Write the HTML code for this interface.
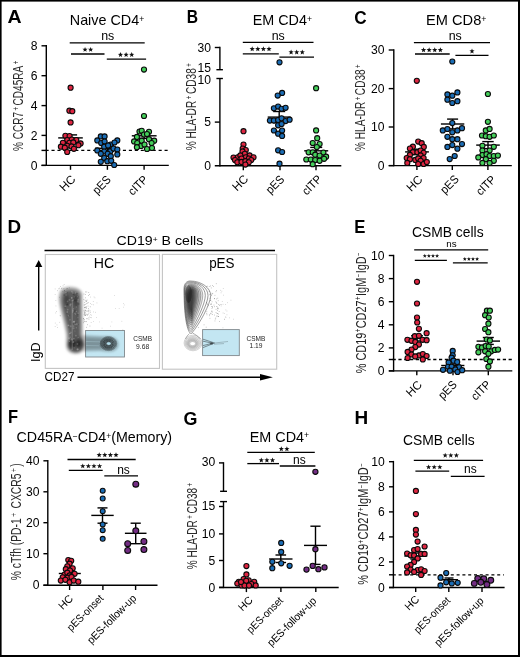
<!DOCTYPE html>
<html><head><meta charset="utf-8"><title>Figure</title>
<style>
html,body{margin:0;padding:0;background:#fff;}
body{width:520px;height:657px;overflow:hidden;}
svg{display:block;}
text{font-family:"Liberation Sans",sans-serif;}
</style></head>
<body>
<svg width="520" height="657" viewBox="0 0 520 657" font-family="Liberation Sans, sans-serif">
<defs><filter id="blur" x="-20%" y="-20%" width="140%" height="140%"><feGaussianBlur stdDeviation="0.9"/></filter><filter id="blur2" x="-20%" y="-20%" width="140%" height="140%"><feGaussianBlur stdDeviation="0.7"/></filter><filter id="blur3" x="-20%" y="-20%" width="140%" height="140%"><feGaussianBlur stdDeviation="0.45"/></filter></defs>
<rect width="520" height="657" fill="#fff"/>
<rect x="0" y="0" width="520" height="1.6" fill="#000"/>
<rect x="0" y="0" width="1.6" height="657" fill="#000"/>
<rect x="518" y="0" width="2" height="657" fill="#000"/>
<rect x="0" y="655" width="520" height="2" fill="#000"/>
<g transform="translate(7.51,23.30) scale(1.110,1)"><text x="0" y="0" font-size="17.6" font-weight="bold">A</text></g>
<g transform="translate(69.77,25.30) rotate(0) scale(1.0267,1.0)"><text x="0.00" y="0" fill="#000"><tspan font-size="14.00" dx="0.00" dy="0.00">Naive CD4</tspan><tspan font-size="8.40" dx="0.00" dy="-3.50">+</tspan></text></g>
<line x1="46.30" y1="45.10" x2="46.30" y2="166.00" stroke="#000" stroke-width="1.4" stroke-linecap="butt"/>
<line x1="41.50" y1="45.80" x2="46.30" y2="45.80" stroke="#000" stroke-width="1.4" stroke-linecap="butt"/>
<line x1="41.50" y1="75.70" x2="46.30" y2="75.70" stroke="#000" stroke-width="1.4" stroke-linecap="butt"/>
<line x1="41.50" y1="105.60" x2="46.30" y2="105.60" stroke="#000" stroke-width="1.4" stroke-linecap="butt"/>
<line x1="41.50" y1="135.40" x2="46.30" y2="135.40" stroke="#000" stroke-width="1.4" stroke-linecap="butt"/>
<line x1="41.50" y1="165.40" x2="46.30" y2="165.40" stroke="#000" stroke-width="1.4" stroke-linecap="butt"/>
<line x1="41.50" y1="150.40" x2="46.30" y2="150.40" stroke="#000" stroke-width="1.4" stroke-linecap="butt"/>
<line x1="41.50" y1="165.40" x2="168.80" y2="165.40" stroke="#000" stroke-width="1.4" stroke-linecap="butt"/>
<line x1="70.50" y1="165.40" x2="70.50" y2="169.80" stroke="#000" stroke-width="1.4" stroke-linecap="butt"/>
<line x1="107.40" y1="165.40" x2="107.40" y2="169.80" stroke="#000" stroke-width="1.4" stroke-linecap="butt"/>
<line x1="144.10" y1="165.40" x2="144.10" y2="169.80" stroke="#000" stroke-width="1.4" stroke-linecap="butt"/>
<line x1="45.55" y1="150.40" x2="168.80" y2="150.40" stroke="#000" stroke-width="1.3" stroke-linecap="butt" stroke-dasharray="3.1 2.85"/>
<g transform="translate(37.60,49.96) scale(1.02,1)"><text x="0" y="0" font-size="11.9" text-anchor="end">8</text></g>
<g transform="translate(37.60,79.87) scale(1.02,1)"><text x="0" y="0" font-size="11.9" text-anchor="end">6</text></g>
<g transform="translate(37.60,109.77) scale(1.02,1)"><text x="0" y="0" font-size="11.9" text-anchor="end">4</text></g>
<g transform="translate(37.60,139.56) scale(1.02,1)"><text x="0" y="0" font-size="11.9" text-anchor="end">2</text></g>
<g transform="translate(37.60,169.56) scale(1.02,1)"><text x="0" y="0" font-size="11.9" text-anchor="end">0</text></g>
<g transform="translate(23.10,151.00) rotate(-90) scale(0.6783,1.0)"><text x="0.00" y="0" fill="#2a2a2a" style="stroke:none"><tspan font-size="14.80" dx="0.00" dy="0.00">% CCR7</tspan><tspan font-size="9.18" dx="2.20" dy="-4.44">+</tspan><tspan font-size="14.80" dx="2.20" dy="4.44">CD45RA</tspan><tspan font-size="9.18" dx="2.20" dy="-4.44">+</tspan></text></g>
<line x1="69.70" y1="42.90" x2="144.70" y2="42.90" stroke="#000" stroke-width="1.3" stroke-linecap="butt"/>
<text x="107.70" y="39.60" font-size="12.4" text-anchor="middle" fill="#000">ns</text>
<line x1="71.00" y1="54.00" x2="104.50" y2="54.00" stroke="#000" stroke-width="1.3" stroke-linecap="butt"/>
<polygon points="85.05,46.90 85.73,48.72 87.67,48.80 86.15,50.01 86.67,51.87 85.05,50.80 83.43,51.87 83.95,50.01 82.43,48.80 84.37,48.72" fill="#111"/>
<polygon points="90.65,46.90 91.33,48.72 93.27,48.80 91.75,50.01 92.27,51.87 90.65,50.80 89.03,51.87 89.55,50.01 88.03,48.80 89.97,48.72" fill="#111"/>
<line x1="106.80" y1="59.10" x2="146.10" y2="59.10" stroke="#000" stroke-width="1.3" stroke-linecap="butt"/>
<polygon points="120.50,52.00 121.18,53.82 123.12,53.90 121.60,55.11 122.12,56.97 120.50,55.91 118.88,56.97 119.40,55.11 117.88,53.90 119.82,53.82" fill="#111"/>
<polygon points="126.10,52.00 126.78,53.82 128.72,53.90 127.20,55.11 127.72,56.97 126.10,55.91 124.48,56.97 125.00,55.11 123.48,53.90 125.42,53.82" fill="#111"/>
<polygon points="131.70,52.00 132.38,53.82 134.32,53.90 132.80,55.11 133.32,56.97 131.70,55.91 130.08,56.97 130.60,55.11 129.08,53.90 131.02,53.82" fill="#111"/>
<line x1="58.20" y1="137.90" x2="82.80" y2="137.90" stroke="#000" stroke-width="1.4" stroke-linecap="butt"/>
<line x1="63.90" y1="134.90" x2="77.10" y2="134.90" stroke="#000" stroke-width="1.4" stroke-linecap="butt"/>
<line x1="70.50" y1="134.90" x2="70.50" y2="137.90" stroke="#000" stroke-width="1.4" stroke-linecap="butt"/>
<line x1="63.90" y1="141.00" x2="77.10" y2="141.00" stroke="#000" stroke-width="1.4" stroke-linecap="butt"/>
<line x1="70.50" y1="137.90" x2="70.50" y2="141.00" stroke="#000" stroke-width="1.4" stroke-linecap="butt"/>
<line x1="95.10" y1="148.30" x2="119.70" y2="148.30" stroke="#000" stroke-width="1.4" stroke-linecap="butt"/>
<line x1="100.80" y1="145.30" x2="114.00" y2="145.30" stroke="#000" stroke-width="1.4" stroke-linecap="butt"/>
<line x1="107.40" y1="145.30" x2="107.40" y2="148.30" stroke="#000" stroke-width="1.4" stroke-linecap="butt"/>
<line x1="100.80" y1="151.30" x2="114.00" y2="151.30" stroke="#000" stroke-width="1.4" stroke-linecap="butt"/>
<line x1="107.40" y1="148.30" x2="107.40" y2="151.30" stroke="#000" stroke-width="1.4" stroke-linecap="butt"/>
<line x1="131.80" y1="135.80" x2="156.60" y2="135.80" stroke="#000" stroke-width="1.4" stroke-linecap="butt"/>
<line x1="137.60" y1="133.20" x2="150.80" y2="133.20" stroke="#000" stroke-width="1.4" stroke-linecap="butt"/>
<line x1="144.20" y1="133.20" x2="144.20" y2="135.80" stroke="#000" stroke-width="1.4" stroke-linecap="butt"/>
<line x1="137.60" y1="138.40" x2="150.80" y2="138.40" stroke="#000" stroke-width="1.4" stroke-linecap="butt"/>
<line x1="144.20" y1="135.80" x2="144.20" y2="138.40" stroke="#000" stroke-width="1.4" stroke-linecap="butt"/>
<circle cx="70.60" cy="87.70" r="2.55" fill="#de2541" stroke="#0a0a0a" stroke-width="1.1"/>
<circle cx="69.40" cy="110.70" r="2.55" fill="#de2541" stroke="#0a0a0a" stroke-width="1.1"/>
<circle cx="72.30" cy="111.20" r="2.55" fill="#de2541" stroke="#0a0a0a" stroke-width="1.1"/>
<circle cx="70.60" cy="122.40" r="2.55" fill="#de2541" stroke="#0a0a0a" stroke-width="1.1"/>
<circle cx="65.40" cy="135.80" r="2.55" fill="#de2541" stroke="#0a0a0a" stroke-width="1.1"/>
<circle cx="69.60" cy="136.10" r="2.55" fill="#de2541" stroke="#0a0a0a" stroke-width="1.1"/>
<circle cx="67.20" cy="140.00" r="2.55" fill="#de2541" stroke="#0a0a0a" stroke-width="1.1"/>
<circle cx="71.80" cy="139.50" r="2.55" fill="#de2541" stroke="#0a0a0a" stroke-width="1.1"/>
<circle cx="76.30" cy="140.00" r="2.55" fill="#de2541" stroke="#0a0a0a" stroke-width="1.1"/>
<circle cx="62.90" cy="142.80" r="2.55" fill="#de2541" stroke="#0a0a0a" stroke-width="1.1"/>
<circle cx="69.40" cy="142.80" r="2.55" fill="#de2541" stroke="#0a0a0a" stroke-width="1.1"/>
<circle cx="73.30" cy="142.40" r="2.55" fill="#de2541" stroke="#0a0a0a" stroke-width="1.1"/>
<circle cx="80.60" cy="143.40" r="2.55" fill="#de2541" stroke="#0a0a0a" stroke-width="1.1"/>
<circle cx="78.40" cy="145.20" r="2.55" fill="#de2541" stroke="#0a0a0a" stroke-width="1.1"/>
<circle cx="60.90" cy="146.70" r="2.55" fill="#de2541" stroke="#0a0a0a" stroke-width="1.1"/>
<circle cx="67.20" cy="145.80" r="2.55" fill="#de2541" stroke="#0a0a0a" stroke-width="1.1"/>
<circle cx="71.50" cy="146.40" r="2.55" fill="#de2541" stroke="#0a0a0a" stroke-width="1.1"/>
<circle cx="73.90" cy="148.80" r="2.55" fill="#de2541" stroke="#0a0a0a" stroke-width="1.1"/>
<circle cx="64.80" cy="147.70" r="2.55" fill="#de2541" stroke="#0a0a0a" stroke-width="1.1"/>
<circle cx="67.20" cy="152.00" r="2.55" fill="#de2541" stroke="#0a0a0a" stroke-width="1.1"/>
<circle cx="100.80" cy="136.40" r="2.55" fill="#1b6db5" stroke="#0a0a0a" stroke-width="1.1"/>
<circle cx="104.60" cy="136.40" r="2.55" fill="#1b6db5" stroke="#0a0a0a" stroke-width="1.1"/>
<circle cx="97.30" cy="140.40" r="2.55" fill="#1b6db5" stroke="#0a0a0a" stroke-width="1.1"/>
<circle cx="117.30" cy="140.40" r="2.55" fill="#1b6db5" stroke="#0a0a0a" stroke-width="1.1"/>
<circle cx="101.20" cy="143.10" r="2.55" fill="#1b6db5" stroke="#0a0a0a" stroke-width="1.1"/>
<circle cx="104.60" cy="141.50" r="2.55" fill="#1b6db5" stroke="#0a0a0a" stroke-width="1.1"/>
<circle cx="110.60" cy="144.60" r="2.55" fill="#1b6db5" stroke="#0a0a0a" stroke-width="1.1"/>
<circle cx="114.50" cy="142.50" r="2.55" fill="#1b6db5" stroke="#0a0a0a" stroke-width="1.1"/>
<circle cx="104.20" cy="146.70" r="2.55" fill="#1b6db5" stroke="#0a0a0a" stroke-width="1.1"/>
<circle cx="108.10" cy="145.40" r="2.55" fill="#1b6db5" stroke="#0a0a0a" stroke-width="1.1"/>
<circle cx="97.30" cy="150.40" r="2.55" fill="#1b6db5" stroke="#0a0a0a" stroke-width="1.1"/>
<circle cx="104.20" cy="151.50" r="2.55" fill="#1b6db5" stroke="#0a0a0a" stroke-width="1.1"/>
<circle cx="110.40" cy="151.20" r="2.55" fill="#1b6db5" stroke="#0a0a0a" stroke-width="1.1"/>
<circle cx="113.50" cy="148.50" r="2.55" fill="#1b6db5" stroke="#0a0a0a" stroke-width="1.1"/>
<circle cx="117.30" cy="149.50" r="2.55" fill="#1b6db5" stroke="#0a0a0a" stroke-width="1.1"/>
<circle cx="100.80" cy="153.80" r="2.55" fill="#1b6db5" stroke="#0a0a0a" stroke-width="1.1"/>
<circle cx="107.70" cy="153.80" r="2.55" fill="#1b6db5" stroke="#0a0a0a" stroke-width="1.1"/>
<circle cx="117.30" cy="154.40" r="2.55" fill="#1b6db5" stroke="#0a0a0a" stroke-width="1.1"/>
<circle cx="110.80" cy="156.20" r="2.55" fill="#1b6db5" stroke="#0a0a0a" stroke-width="1.1"/>
<circle cx="104.20" cy="158.10" r="2.55" fill="#1b6db5" stroke="#0a0a0a" stroke-width="1.1"/>
<circle cx="100.80" cy="161.80" r="2.55" fill="#1b6db5" stroke="#0a0a0a" stroke-width="1.1"/>
<circle cx="107.30" cy="161.20" r="2.55" fill="#1b6db5" stroke="#0a0a0a" stroke-width="1.1"/>
<circle cx="111.20" cy="160.80" r="2.55" fill="#1b6db5" stroke="#0a0a0a" stroke-width="1.1"/>
<circle cx="114.20" cy="165.00" r="2.55" fill="#1b6db5" stroke="#0a0a0a" stroke-width="1.1"/>
<circle cx="144.00" cy="69.60" r="2.55" fill="#44cf5a" stroke="#0a0a0a" stroke-width="1.1"/>
<circle cx="144.00" cy="116.00" r="2.55" fill="#44cf5a" stroke="#0a0a0a" stroke-width="1.1"/>
<circle cx="139.50" cy="131.50" r="2.55" fill="#44cf5a" stroke="#0a0a0a" stroke-width="1.1"/>
<circle cx="141.70" cy="130.80" r="2.55" fill="#44cf5a" stroke="#0a0a0a" stroke-width="1.1"/>
<circle cx="149.00" cy="131.80" r="2.55" fill="#44cf5a" stroke="#0a0a0a" stroke-width="1.1"/>
<circle cx="136.90" cy="136.90" r="2.55" fill="#44cf5a" stroke="#0a0a0a" stroke-width="1.1"/>
<circle cx="144.00" cy="134.60" r="2.55" fill="#44cf5a" stroke="#0a0a0a" stroke-width="1.1"/>
<circle cx="147.00" cy="134.10" r="2.55" fill="#44cf5a" stroke="#0a0a0a" stroke-width="1.1"/>
<circle cx="134.10" cy="141.40" r="2.55" fill="#44cf5a" stroke="#0a0a0a" stroke-width="1.1"/>
<circle cx="141.70" cy="140.70" r="2.55" fill="#44cf5a" stroke="#0a0a0a" stroke-width="1.1"/>
<circle cx="149.00" cy="139.20" r="2.55" fill="#44cf5a" stroke="#0a0a0a" stroke-width="1.1"/>
<circle cx="154.20" cy="140.70" r="2.55" fill="#44cf5a" stroke="#0a0a0a" stroke-width="1.1"/>
<circle cx="137.20" cy="143.00" r="2.55" fill="#44cf5a" stroke="#0a0a0a" stroke-width="1.1"/>
<circle cx="141.00" cy="146.00" r="2.55" fill="#44cf5a" stroke="#0a0a0a" stroke-width="1.1"/>
<circle cx="144.50" cy="144.50" r="2.55" fill="#44cf5a" stroke="#0a0a0a" stroke-width="1.1"/>
<circle cx="151.60" cy="143.00" r="2.55" fill="#44cf5a" stroke="#0a0a0a" stroke-width="1.1"/>
<circle cx="136.90" cy="147.20" r="2.55" fill="#44cf5a" stroke="#0a0a0a" stroke-width="1.1"/>
<circle cx="147.00" cy="149.00" r="2.55" fill="#44cf5a" stroke="#0a0a0a" stroke-width="1.1"/>
<circle cx="152.00" cy="148.00" r="2.55" fill="#44cf5a" stroke="#0a0a0a" stroke-width="1.1"/>
<g transform="translate(76.30,179.90) rotate(-45) scale(1,1)"><text x="0" y="0" font-size="11.8" text-anchor="end" fill="#000">HC</text></g>
<g transform="translate(111.70,180.50) rotate(-45) scale(0.92,1)"><text x="0" y="0" font-size="11.8" text-anchor="end" fill="#000">pES</text></g>
<g transform="translate(148.60,180.30) rotate(-45) scale(0.92,1)"><text x="0" y="0" font-size="11.8" text-anchor="end" fill="#000">cITP</text></g>
<g transform="translate(186.80,23.30) scale(0.890,1)"><text x="0" y="0" font-size="17.6" font-weight="bold">B</text></g>
<g transform="translate(252.67,25.30) rotate(0) scale(1.0266,1.05)"><text x="0.00" y="0" fill="#000"><tspan font-size="14.00" dx="0.00" dy="0.00">EM CD4</tspan><tspan font-size="8.40" dx="0.00" dy="-3.50">+</tspan></text></g>
<line x1="219.90" y1="46.80" x2="219.90" y2="69.70" stroke="#000" stroke-width="1.4" stroke-linecap="butt"/>
<line x1="214.80" y1="47.50" x2="219.90" y2="47.50" stroke="#000" stroke-width="1.4" stroke-linecap="butt"/>
<line x1="216.40" y1="69.70" x2="222.90" y2="69.70" stroke="#000" stroke-width="1.4" stroke-linecap="butt"/>
<line x1="219.90" y1="78.50" x2="219.90" y2="166.50" stroke="#000" stroke-width="1.4" stroke-linecap="butt"/>
<line x1="216.40" y1="78.50" x2="222.90" y2="78.50" stroke="#000" stroke-width="1.4" stroke-linecap="butt"/>
<line x1="214.80" y1="122.10" x2="219.90" y2="122.10" stroke="#000" stroke-width="1.4" stroke-linecap="butt"/>
<line x1="214.80" y1="165.80" x2="341.30" y2="165.80" stroke="#000" stroke-width="1.4" stroke-linecap="butt"/>
<line x1="243.30" y1="165.80" x2="243.30" y2="170.20" stroke="#000" stroke-width="1.4" stroke-linecap="butt"/>
<line x1="280.00" y1="165.80" x2="280.00" y2="170.20" stroke="#000" stroke-width="1.4" stroke-linecap="butt"/>
<line x1="316.00" y1="165.80" x2="316.00" y2="170.20" stroke="#000" stroke-width="1.4" stroke-linecap="butt"/>
<g transform="translate(211.00,51.87) scale(1.02,1)"><text x="0" y="0" font-size="11.9" text-anchor="end">30</text></g>
<g transform="translate(211.00,72.17) scale(1.02,1)"><text x="0" y="0" font-size="11.9" text-anchor="end">15</text></g>
<g transform="translate(211.00,84.37) scale(1.02,1)"><text x="0" y="0" font-size="11.9" text-anchor="end">10</text></g>
<g transform="translate(211.00,126.47) scale(1.02,1)"><text x="0" y="0" font-size="11.9" text-anchor="end">5</text></g>
<g transform="translate(211.00,169.76) scale(1.02,1)"><text x="0" y="0" font-size="11.9" text-anchor="end">0</text></g>
<g transform="translate(196.00,150.30) rotate(-90) scale(0.6854,1.0)"><text x="0.00" y="0" fill="#2a2a2a" style="stroke:none"><tspan font-size="14.80" dx="0.00" dy="0.00">% HLA-DR</tspan><tspan font-size="9.18" dx="2.20" dy="-4.44">+</tspan><tspan font-size="14.80" dx="2.20" dy="4.44">CD38</tspan><tspan font-size="9.18" dx="2.20" dy="-4.44">+</tspan></text></g>
<line x1="242.80" y1="42.40" x2="313.50" y2="42.40" stroke="#000" stroke-width="1.3" stroke-linecap="butt"/>
<text x="278.20" y="39.60" font-size="12.4" text-anchor="middle" fill="#000">ns</text>
<line x1="242.80" y1="53.90" x2="278.80" y2="53.90" stroke="#000" stroke-width="1.3" stroke-linecap="butt"/>
<polygon points="252.20,46.30 252.88,48.12 254.82,48.20 253.30,49.41 253.82,51.27 252.20,50.20 250.58,51.27 251.10,49.41 249.58,48.20 251.52,48.12" fill="#111"/>
<polygon points="257.80,46.30 258.48,48.12 260.42,48.20 258.90,49.41 259.42,51.27 257.80,50.20 256.18,51.27 256.70,49.41 255.18,48.20 257.12,48.12" fill="#111"/>
<polygon points="263.40,46.30 264.08,48.12 266.02,48.20 264.50,49.41 265.02,51.27 263.40,50.20 261.78,51.27 262.30,49.41 260.78,48.20 262.72,48.12" fill="#111"/>
<polygon points="269.00,46.30 269.68,48.12 271.62,48.20 270.10,49.41 270.62,51.27 269.00,50.20 267.38,51.27 267.90,49.41 266.38,48.20 268.32,48.12" fill="#111"/>
<line x1="279.40" y1="57.20" x2="314.00" y2="57.20" stroke="#000" stroke-width="1.3" stroke-linecap="butt"/>
<polygon points="291.10,49.50 291.78,51.32 293.72,51.40 292.20,52.61 292.72,54.47 291.10,53.41 289.48,54.47 290.00,52.61 288.48,51.40 290.42,51.32" fill="#111"/>
<polygon points="296.70,49.50 297.38,51.32 299.32,51.40 297.80,52.61 298.32,54.47 296.70,53.41 295.08,54.47 295.60,52.61 294.08,51.40 296.02,51.32" fill="#111"/>
<polygon points="302.30,49.50 302.98,51.32 304.92,51.40 303.40,52.61 303.92,54.47 302.30,53.41 300.68,54.47 301.20,52.61 299.68,51.40 301.62,51.32" fill="#111"/>
<line x1="232.00" y1="157.00" x2="255.00" y2="157.00" stroke="#000" stroke-width="1.4" stroke-linecap="butt"/>
<line x1="237.50" y1="155.00" x2="249.50" y2="155.00" stroke="#000" stroke-width="1.4" stroke-linecap="butt"/>
<line x1="243.50" y1="155.00" x2="243.50" y2="157.00" stroke="#000" stroke-width="1.4" stroke-linecap="butt"/>
<line x1="237.50" y1="159.00" x2="249.50" y2="159.00" stroke="#000" stroke-width="1.4" stroke-linecap="butt"/>
<line x1="243.50" y1="157.00" x2="243.50" y2="159.00" stroke="#000" stroke-width="1.4" stroke-linecap="butt"/>
<line x1="267.70" y1="117.10" x2="290.70" y2="117.10" stroke="#000" stroke-width="1.4" stroke-linecap="butt"/>
<line x1="273.20" y1="111.50" x2="285.20" y2="111.50" stroke="#000" stroke-width="1.4" stroke-linecap="butt"/>
<line x1="279.20" y1="111.50" x2="279.20" y2="117.10" stroke="#000" stroke-width="1.4" stroke-linecap="butt"/>
<line x1="273.20" y1="122.60" x2="285.20" y2="122.60" stroke="#000" stroke-width="1.4" stroke-linecap="butt"/>
<line x1="279.20" y1="117.10" x2="279.20" y2="122.60" stroke="#000" stroke-width="1.4" stroke-linecap="butt"/>
<line x1="304.20" y1="150.80" x2="328.20" y2="150.80" stroke="#000" stroke-width="1.4" stroke-linecap="butt"/>
<line x1="310.20" y1="147.40" x2="322.20" y2="147.40" stroke="#000" stroke-width="1.4" stroke-linecap="butt"/>
<line x1="316.20" y1="147.40" x2="316.20" y2="150.80" stroke="#000" stroke-width="1.4" stroke-linecap="butt"/>
<line x1="310.20" y1="154.20" x2="322.20" y2="154.20" stroke="#000" stroke-width="1.4" stroke-linecap="butt"/>
<line x1="316.20" y1="150.80" x2="316.20" y2="154.20" stroke="#000" stroke-width="1.4" stroke-linecap="butt"/>
<circle cx="243.50" cy="131.20" r="2.55" fill="#de2541" stroke="#0a0a0a" stroke-width="1.1"/>
<circle cx="243.50" cy="144.50" r="2.55" fill="#de2541" stroke="#0a0a0a" stroke-width="1.1"/>
<circle cx="242.70" cy="148.50" r="2.55" fill="#de2541" stroke="#0a0a0a" stroke-width="1.1"/>
<circle cx="245.80" cy="150.00" r="2.55" fill="#de2541" stroke="#0a0a0a" stroke-width="1.1"/>
<circle cx="242.50" cy="151.40" r="2.55" fill="#de2541" stroke="#0a0a0a" stroke-width="1.1"/>
<circle cx="244.80" cy="153.80" r="2.55" fill="#de2541" stroke="#0a0a0a" stroke-width="1.1"/>
<circle cx="233.50" cy="157.50" r="2.55" fill="#de2541" stroke="#0a0a0a" stroke-width="1.1"/>
<circle cx="237.70" cy="157.30" r="2.55" fill="#de2541" stroke="#0a0a0a" stroke-width="1.1"/>
<circle cx="240.40" cy="155.40" r="2.55" fill="#de2541" stroke="#0a0a0a" stroke-width="1.1"/>
<circle cx="249.60" cy="155.40" r="2.55" fill="#de2541" stroke="#0a0a0a" stroke-width="1.1"/>
<circle cx="253.50" cy="157.30" r="2.55" fill="#de2541" stroke="#0a0a0a" stroke-width="1.1"/>
<circle cx="245.80" cy="157.30" r="2.55" fill="#de2541" stroke="#0a0a0a" stroke-width="1.1"/>
<circle cx="235.00" cy="160.00" r="2.55" fill="#de2541" stroke="#0a0a0a" stroke-width="1.1"/>
<circle cx="241.50" cy="158.50" r="2.55" fill="#de2541" stroke="#0a0a0a" stroke-width="1.1"/>
<circle cx="248.80" cy="158.50" r="2.55" fill="#de2541" stroke="#0a0a0a" stroke-width="1.1"/>
<circle cx="251.20" cy="160.00" r="2.55" fill="#de2541" stroke="#0a0a0a" stroke-width="1.1"/>
<circle cx="237.30" cy="162.30" r="2.55" fill="#de2541" stroke="#0a0a0a" stroke-width="1.1"/>
<circle cx="241.50" cy="161.90" r="2.55" fill="#de2541" stroke="#0a0a0a" stroke-width="1.1"/>
<circle cx="245.40" cy="161.20" r="2.55" fill="#de2541" stroke="#0a0a0a" stroke-width="1.1"/>
<circle cx="248.80" cy="162.30" r="2.55" fill="#de2541" stroke="#0a0a0a" stroke-width="1.1"/>
<circle cx="245.40" cy="164.60" r="2.55" fill="#de2541" stroke="#0a0a0a" stroke-width="1.1"/>
<circle cx="279.50" cy="62.30" r="2.55" fill="#1b6db5" stroke="#0a0a0a" stroke-width="1.1"/>
<circle cx="282.10" cy="92.90" r="2.55" fill="#1b6db5" stroke="#0a0a0a" stroke-width="1.1"/>
<circle cx="277.70" cy="95.60" r="2.55" fill="#1b6db5" stroke="#0a0a0a" stroke-width="1.1"/>
<circle cx="273.90" cy="108.30" r="2.55" fill="#1b6db5" stroke="#0a0a0a" stroke-width="1.1"/>
<circle cx="278.10" cy="106.60" r="2.55" fill="#1b6db5" stroke="#0a0a0a" stroke-width="1.1"/>
<circle cx="281.60" cy="108.80" r="2.55" fill="#1b6db5" stroke="#0a0a0a" stroke-width="1.1"/>
<circle cx="285.60" cy="107.80" r="2.55" fill="#1b6db5" stroke="#0a0a0a" stroke-width="1.1"/>
<circle cx="269.90" cy="120.60" r="2.55" fill="#1b6db5" stroke="#0a0a0a" stroke-width="1.1"/>
<circle cx="273.90" cy="120.60" r="2.55" fill="#1b6db5" stroke="#0a0a0a" stroke-width="1.1"/>
<circle cx="278.10" cy="120.00" r="2.55" fill="#1b6db5" stroke="#0a0a0a" stroke-width="1.1"/>
<circle cx="281.60" cy="118.30" r="2.55" fill="#1b6db5" stroke="#0a0a0a" stroke-width="1.1"/>
<circle cx="285.60" cy="121.10" r="2.55" fill="#1b6db5" stroke="#0a0a0a" stroke-width="1.1"/>
<circle cx="289.60" cy="119.70" r="2.55" fill="#1b6db5" stroke="#0a0a0a" stroke-width="1.1"/>
<circle cx="278.10" cy="125.30" r="2.55" fill="#1b6db5" stroke="#0a0a0a" stroke-width="1.1"/>
<circle cx="281.60" cy="124.10" r="2.55" fill="#1b6db5" stroke="#0a0a0a" stroke-width="1.1"/>
<circle cx="273.90" cy="130.50" r="2.55" fill="#1b6db5" stroke="#0a0a0a" stroke-width="1.1"/>
<circle cx="278.10" cy="133.70" r="2.55" fill="#1b6db5" stroke="#0a0a0a" stroke-width="1.1"/>
<circle cx="282.10" cy="130.50" r="2.55" fill="#1b6db5" stroke="#0a0a0a" stroke-width="1.1"/>
<circle cx="282.10" cy="135.90" r="2.55" fill="#1b6db5" stroke="#0a0a0a" stroke-width="1.1"/>
<circle cx="278.10" cy="150.30" r="2.55" fill="#1b6db5" stroke="#0a0a0a" stroke-width="1.1"/>
<circle cx="282.10" cy="152.00" r="2.55" fill="#1b6db5" stroke="#0a0a0a" stroke-width="1.1"/>
<circle cx="279.50" cy="163.70" r="2.55" fill="#1b6db5" stroke="#0a0a0a" stroke-width="1.1"/>
<circle cx="316.10" cy="88.20" r="2.55" fill="#44cf5a" stroke="#0a0a0a" stroke-width="1.1"/>
<circle cx="316.10" cy="130.40" r="2.55" fill="#44cf5a" stroke="#0a0a0a" stroke-width="1.1"/>
<circle cx="317.20" cy="138.20" r="2.55" fill="#44cf5a" stroke="#0a0a0a" stroke-width="1.1"/>
<circle cx="312.70" cy="143.00" r="2.55" fill="#44cf5a" stroke="#0a0a0a" stroke-width="1.1"/>
<circle cx="319.60" cy="144.10" r="2.55" fill="#44cf5a" stroke="#0a0a0a" stroke-width="1.1"/>
<circle cx="316.80" cy="147.10" r="2.55" fill="#44cf5a" stroke="#0a0a0a" stroke-width="1.1"/>
<circle cx="308.60" cy="152.30" r="2.55" fill="#44cf5a" stroke="#0a0a0a" stroke-width="1.1"/>
<circle cx="312.70" cy="152.30" r="2.55" fill="#44cf5a" stroke="#0a0a0a" stroke-width="1.1"/>
<circle cx="323.40" cy="152.60" r="2.55" fill="#44cf5a" stroke="#0a0a0a" stroke-width="1.1"/>
<circle cx="315.20" cy="154.70" r="2.55" fill="#44cf5a" stroke="#0a0a0a" stroke-width="1.1"/>
<circle cx="319.60" cy="155.60" r="2.55" fill="#44cf5a" stroke="#0a0a0a" stroke-width="1.1"/>
<circle cx="326.10" cy="156.70" r="2.55" fill="#44cf5a" stroke="#0a0a0a" stroke-width="1.1"/>
<circle cx="306.30" cy="159.50" r="2.55" fill="#44cf5a" stroke="#0a0a0a" stroke-width="1.1"/>
<circle cx="310.80" cy="159.50" r="2.55" fill="#44cf5a" stroke="#0a0a0a" stroke-width="1.1"/>
<circle cx="315.20" cy="160.10" r="2.55" fill="#44cf5a" stroke="#0a0a0a" stroke-width="1.1"/>
<circle cx="319.60" cy="160.80" r="2.55" fill="#44cf5a" stroke="#0a0a0a" stroke-width="1.1"/>
<circle cx="324.10" cy="158.80" r="2.55" fill="#44cf5a" stroke="#0a0a0a" stroke-width="1.1"/>
<circle cx="312.70" cy="164.20" r="2.55" fill="#44cf5a" stroke="#0a0a0a" stroke-width="1.1"/>
<g transform="translate(249.00,179.80) rotate(-45) scale(1,1)"><text x="0" y="0" font-size="11.8" text-anchor="end" fill="#000">HC</text></g>
<g transform="translate(285.10,180.10) rotate(-45) scale(0.92,1)"><text x="0" y="0" font-size="11.8" text-anchor="end" fill="#000">pES</text></g>
<g transform="translate(322.50,180.00) rotate(-45) scale(0.92,1)"><text x="0" y="0" font-size="11.8" text-anchor="end" fill="#000">cITP</text></g>
<g transform="translate(354.31,23.50) scale(0.977,1)"><text x="0" y="0" font-size="17.6" font-weight="bold">C</text></g>
<g transform="translate(426.05,25.30) rotate(0) scale(1.0444,1.05)"><text x="0.00" y="0" fill="#000"><tspan font-size="14.00" dx="0.00" dy="0.00">EM CD8</tspan><tspan font-size="8.40" dx="0.00" dy="-3.50">+</tspan></text></g>
<line x1="393.80" y1="49.30" x2="393.80" y2="166.30" stroke="#000" stroke-width="1.4" stroke-linecap="butt"/>
<line x1="388.70" y1="50.00" x2="393.80" y2="50.00" stroke="#000" stroke-width="1.4" stroke-linecap="butt"/>
<line x1="388.70" y1="88.60" x2="393.80" y2="88.60" stroke="#000" stroke-width="1.4" stroke-linecap="butt"/>
<line x1="388.70" y1="127.00" x2="393.80" y2="127.00" stroke="#000" stroke-width="1.4" stroke-linecap="butt"/>
<line x1="388.70" y1="165.60" x2="393.80" y2="165.60" stroke="#000" stroke-width="1.4" stroke-linecap="butt"/>
<line x1="388.70" y1="165.60" x2="511.80" y2="165.60" stroke="#000" stroke-width="1.4" stroke-linecap="butt"/>
<line x1="416.90" y1="165.60" x2="416.90" y2="170.00" stroke="#000" stroke-width="1.4" stroke-linecap="butt"/>
<line x1="452.30" y1="165.60" x2="452.30" y2="170.00" stroke="#000" stroke-width="1.4" stroke-linecap="butt"/>
<line x1="487.90" y1="165.60" x2="487.90" y2="170.00" stroke="#000" stroke-width="1.4" stroke-linecap="butt"/>
<g transform="translate(384.40,54.16) scale(1.02,1)"><text x="0" y="0" font-size="11.9" text-anchor="end">30</text></g>
<g transform="translate(384.40,92.77) scale(1.02,1)"><text x="0" y="0" font-size="11.9" text-anchor="end">20</text></g>
<g transform="translate(384.40,131.16) scale(1.02,1)"><text x="0" y="0" font-size="11.9" text-anchor="end">10</text></g>
<g transform="translate(384.40,169.76) scale(1.02,1)"><text x="0" y="0" font-size="11.9" text-anchor="end">0</text></g>
<g transform="translate(365.40,150.90) rotate(-90) scale(0.6799,1.0)"><text x="0.00" y="0" fill="#2a2a2a" style="stroke:none"><tspan font-size="14.80" dx="0.00" dy="0.00">% HLA-DR</tspan><tspan font-size="9.18" dx="2.20" dy="-4.44">+</tspan><tspan font-size="14.80" dx="2.20" dy="4.44">CD38</tspan><tspan font-size="9.18" dx="2.20" dy="-4.44">+</tspan></text></g>
<line x1="413.90" y1="42.70" x2="490.00" y2="42.70" stroke="#000" stroke-width="1.3" stroke-linecap="butt"/>
<text x="455.20" y="39.60" font-size="12.4" text-anchor="middle" fill="#000">ns</text>
<line x1="415.00" y1="54.00" x2="449.70" y2="54.00" stroke="#000" stroke-width="1.3" stroke-linecap="butt"/>
<polygon points="423.55,47.30 424.23,49.12 426.17,49.20 424.65,50.41 425.17,52.27 423.55,51.20 421.93,52.27 422.45,50.41 420.93,49.20 422.87,49.12" fill="#111"/>
<polygon points="429.15,47.30 429.83,49.12 431.77,49.20 430.25,50.41 430.77,52.27 429.15,51.20 427.53,52.27 428.05,50.41 426.53,49.20 428.47,49.12" fill="#111"/>
<polygon points="434.75,47.30 435.43,49.12 437.37,49.20 435.85,50.41 436.37,52.27 434.75,51.20 433.13,52.27 433.65,50.41 432.13,49.20 434.07,49.12" fill="#111"/>
<polygon points="440.35,47.30 441.03,49.12 442.97,49.20 441.45,50.41 441.97,52.27 440.35,51.20 438.73,52.27 439.25,50.41 437.73,49.20 439.67,49.12" fill="#111"/>
<line x1="455.40" y1="55.40" x2="488.50" y2="55.40" stroke="#000" stroke-width="1.3" stroke-linecap="butt"/>
<polygon points="472.00,48.50 472.68,50.32 474.62,50.40 473.10,51.61 473.62,53.47 472.00,52.41 470.38,53.47 470.90,51.61 469.38,50.40 471.32,50.32" fill="#111"/>
<line x1="405.10" y1="151.90" x2="428.90" y2="151.90" stroke="#000" stroke-width="1.4" stroke-linecap="butt"/>
<line x1="411.00" y1="149.20" x2="423.00" y2="149.20" stroke="#000" stroke-width="1.4" stroke-linecap="butt"/>
<line x1="417.00" y1="149.20" x2="417.00" y2="151.90" stroke="#000" stroke-width="1.4" stroke-linecap="butt"/>
<line x1="411.00" y1="154.60" x2="423.00" y2="154.60" stroke="#000" stroke-width="1.4" stroke-linecap="butt"/>
<line x1="417.00" y1="151.90" x2="417.00" y2="154.60" stroke="#000" stroke-width="1.4" stroke-linecap="butt"/>
<line x1="440.90" y1="124.00" x2="464.30" y2="124.00" stroke="#000" stroke-width="1.4" stroke-linecap="butt"/>
<line x1="447.10" y1="119.10" x2="458.10" y2="119.10" stroke="#000" stroke-width="1.4" stroke-linecap="butt"/>
<line x1="452.60" y1="119.10" x2="452.60" y2="124.00" stroke="#000" stroke-width="1.4" stroke-linecap="butt"/>
<line x1="447.10" y1="128.90" x2="458.10" y2="128.90" stroke="#000" stroke-width="1.4" stroke-linecap="butt"/>
<line x1="452.60" y1="124.00" x2="452.60" y2="128.90" stroke="#000" stroke-width="1.4" stroke-linecap="butt"/>
<line x1="476.20" y1="145.10" x2="499.80" y2="145.10" stroke="#000" stroke-width="1.4" stroke-linecap="butt"/>
<line x1="482.30" y1="141.60" x2="493.70" y2="141.60" stroke="#000" stroke-width="1.4" stroke-linecap="butt"/>
<line x1="488.00" y1="141.60" x2="488.00" y2="145.10" stroke="#000" stroke-width="1.4" stroke-linecap="butt"/>
<line x1="482.30" y1="148.60" x2="493.70" y2="148.60" stroke="#000" stroke-width="1.4" stroke-linecap="butt"/>
<line x1="488.00" y1="145.10" x2="488.00" y2="148.60" stroke="#000" stroke-width="1.4" stroke-linecap="butt"/>
<circle cx="416.80" cy="80.80" r="2.55" fill="#de2541" stroke="#0a0a0a" stroke-width="1.1"/>
<circle cx="418.20" cy="141.60" r="2.55" fill="#de2541" stroke="#0a0a0a" stroke-width="1.1"/>
<circle cx="421.70" cy="143.20" r="2.55" fill="#de2541" stroke="#0a0a0a" stroke-width="1.1"/>
<circle cx="412.90" cy="146.70" r="2.55" fill="#de2541" stroke="#0a0a0a" stroke-width="1.1"/>
<circle cx="409.90" cy="148.50" r="2.55" fill="#de2541" stroke="#0a0a0a" stroke-width="1.1"/>
<circle cx="423.80" cy="146.90" r="2.55" fill="#de2541" stroke="#0a0a0a" stroke-width="1.1"/>
<circle cx="412.90" cy="152.20" r="2.55" fill="#de2541" stroke="#0a0a0a" stroke-width="1.1"/>
<circle cx="417.40" cy="152.20" r="2.55" fill="#de2541" stroke="#0a0a0a" stroke-width="1.1"/>
<circle cx="420.60" cy="150.60" r="2.55" fill="#de2541" stroke="#0a0a0a" stroke-width="1.1"/>
<circle cx="423.60" cy="152.80" r="2.55" fill="#de2541" stroke="#0a0a0a" stroke-width="1.1"/>
<circle cx="409.90" cy="154.90" r="2.55" fill="#de2541" stroke="#0a0a0a" stroke-width="1.1"/>
<circle cx="420.60" cy="155.40" r="2.55" fill="#de2541" stroke="#0a0a0a" stroke-width="1.1"/>
<circle cx="406.70" cy="158.10" r="2.55" fill="#de2541" stroke="#0a0a0a" stroke-width="1.1"/>
<circle cx="409.90" cy="159.20" r="2.55" fill="#de2541" stroke="#0a0a0a" stroke-width="1.1"/>
<circle cx="415.30" cy="159.90" r="2.55" fill="#de2541" stroke="#0a0a0a" stroke-width="1.1"/>
<circle cx="418.20" cy="158.40" r="2.55" fill="#de2541" stroke="#0a0a0a" stroke-width="1.1"/>
<circle cx="423.60" cy="158.10" r="2.55" fill="#de2541" stroke="#0a0a0a" stroke-width="1.1"/>
<circle cx="420.60" cy="160.80" r="2.55" fill="#de2541" stroke="#0a0a0a" stroke-width="1.1"/>
<circle cx="407.30" cy="162.90" r="2.55" fill="#de2541" stroke="#0a0a0a" stroke-width="1.1"/>
<circle cx="418.20" cy="164.00" r="2.55" fill="#de2541" stroke="#0a0a0a" stroke-width="1.1"/>
<circle cx="423.60" cy="164.00" r="2.55" fill="#de2541" stroke="#0a0a0a" stroke-width="1.1"/>
<circle cx="426.80" cy="162.00" r="2.55" fill="#de2541" stroke="#0a0a0a" stroke-width="1.1"/>
<circle cx="452.30" cy="61.50" r="2.55" fill="#1b6db5" stroke="#0a0a0a" stroke-width="1.1"/>
<circle cx="447.40" cy="94.40" r="2.55" fill="#1b6db5" stroke="#0a0a0a" stroke-width="1.1"/>
<circle cx="452.30" cy="95.70" r="2.55" fill="#1b6db5" stroke="#0a0a0a" stroke-width="1.1"/>
<circle cx="457.40" cy="92.40" r="2.55" fill="#1b6db5" stroke="#0a0a0a" stroke-width="1.1"/>
<circle cx="447.40" cy="99.70" r="2.55" fill="#1b6db5" stroke="#0a0a0a" stroke-width="1.1"/>
<circle cx="452.30" cy="103.00" r="2.55" fill="#1b6db5" stroke="#0a0a0a" stroke-width="1.1"/>
<circle cx="457.40" cy="101.20" r="2.55" fill="#1b6db5" stroke="#0a0a0a" stroke-width="1.1"/>
<circle cx="452.30" cy="123.10" r="2.55" fill="#1b6db5" stroke="#0a0a0a" stroke-width="1.1"/>
<circle cx="442.80" cy="130.40" r="2.55" fill="#1b6db5" stroke="#0a0a0a" stroke-width="1.1"/>
<circle cx="447.40" cy="129.00" r="2.55" fill="#1b6db5" stroke="#0a0a0a" stroke-width="1.1"/>
<circle cx="457.40" cy="130.40" r="2.55" fill="#1b6db5" stroke="#0a0a0a" stroke-width="1.1"/>
<circle cx="462.00" cy="128.20" r="2.55" fill="#1b6db5" stroke="#0a0a0a" stroke-width="1.1"/>
<circle cx="452.30" cy="132.30" r="2.55" fill="#1b6db5" stroke="#0a0a0a" stroke-width="1.1"/>
<circle cx="447.40" cy="136.80" r="2.55" fill="#1b6db5" stroke="#0a0a0a" stroke-width="1.1"/>
<circle cx="452.30" cy="139.20" r="2.55" fill="#1b6db5" stroke="#0a0a0a" stroke-width="1.1"/>
<circle cx="457.40" cy="139.20" r="2.55" fill="#1b6db5" stroke="#0a0a0a" stroke-width="1.1"/>
<circle cx="447.40" cy="146.90" r="2.55" fill="#1b6db5" stroke="#0a0a0a" stroke-width="1.1"/>
<circle cx="452.30" cy="145.10" r="2.55" fill="#1b6db5" stroke="#0a0a0a" stroke-width="1.1"/>
<circle cx="457.40" cy="148.70" r="2.55" fill="#1b6db5" stroke="#0a0a0a" stroke-width="1.1"/>
<circle cx="462.00" cy="144.10" r="2.55" fill="#1b6db5" stroke="#0a0a0a" stroke-width="1.1"/>
<circle cx="449.70" cy="159.10" r="2.55" fill="#1b6db5" stroke="#0a0a0a" stroke-width="1.1"/>
<circle cx="454.70" cy="156.00" r="2.55" fill="#1b6db5" stroke="#0a0a0a" stroke-width="1.1"/>
<circle cx="487.90" cy="94.00" r="2.55" fill="#44cf5a" stroke="#0a0a0a" stroke-width="1.1"/>
<circle cx="487.90" cy="121.80" r="2.55" fill="#44cf5a" stroke="#0a0a0a" stroke-width="1.1"/>
<circle cx="485.80" cy="130.40" r="2.55" fill="#44cf5a" stroke="#0a0a0a" stroke-width="1.1"/>
<circle cx="489.60" cy="128.90" r="2.55" fill="#44cf5a" stroke="#0a0a0a" stroke-width="1.1"/>
<circle cx="482.00" cy="135.50" r="2.55" fill="#44cf5a" stroke="#0a0a0a" stroke-width="1.1"/>
<circle cx="485.80" cy="136.20" r="2.55" fill="#44cf5a" stroke="#0a0a0a" stroke-width="1.1"/>
<circle cx="489.60" cy="136.80" r="2.55" fill="#44cf5a" stroke="#0a0a0a" stroke-width="1.1"/>
<circle cx="493.80" cy="135.50" r="2.55" fill="#44cf5a" stroke="#0a0a0a" stroke-width="1.1"/>
<circle cx="482.40" cy="145.80" r="2.55" fill="#44cf5a" stroke="#0a0a0a" stroke-width="1.1"/>
<circle cx="493.80" cy="146.80" r="2.55" fill="#44cf5a" stroke="#0a0a0a" stroke-width="1.1"/>
<circle cx="482.40" cy="150.50" r="2.55" fill="#44cf5a" stroke="#0a0a0a" stroke-width="1.1"/>
<circle cx="489.60" cy="150.50" r="2.55" fill="#44cf5a" stroke="#0a0a0a" stroke-width="1.1"/>
<circle cx="482.40" cy="155.10" r="2.55" fill="#44cf5a" stroke="#0a0a0a" stroke-width="1.1"/>
<circle cx="486.50" cy="154.20" r="2.55" fill="#44cf5a" stroke="#0a0a0a" stroke-width="1.1"/>
<circle cx="489.60" cy="156.00" r="2.55" fill="#44cf5a" stroke="#0a0a0a" stroke-width="1.1"/>
<circle cx="493.80" cy="156.00" r="2.55" fill="#44cf5a" stroke="#0a0a0a" stroke-width="1.1"/>
<circle cx="497.90" cy="155.60" r="2.55" fill="#44cf5a" stroke="#0a0a0a" stroke-width="1.1"/>
<circle cx="478.30" cy="157.40" r="2.55" fill="#44cf5a" stroke="#0a0a0a" stroke-width="1.1"/>
<circle cx="485.80" cy="159.20" r="2.55" fill="#44cf5a" stroke="#0a0a0a" stroke-width="1.1"/>
<circle cx="493.80" cy="160.80" r="2.55" fill="#44cf5a" stroke="#0a0a0a" stroke-width="1.1"/>
<circle cx="482.40" cy="162.90" r="2.55" fill="#44cf5a" stroke="#0a0a0a" stroke-width="1.1"/>
<circle cx="489.60" cy="162.90" r="2.55" fill="#44cf5a" stroke="#0a0a0a" stroke-width="1.1"/>
<g transform="translate(423.40,180.10) rotate(-45) scale(1,1)"><text x="0" y="0" font-size="11.8" text-anchor="end" fill="#000">HC</text></g>
<g transform="translate(459.50,180.00) rotate(-45) scale(0.92,1)"><text x="0" y="0" font-size="11.8" text-anchor="end" fill="#000">pES</text></g>
<g transform="translate(496.50,180.30) rotate(-45) scale(0.92,1)"><text x="0" y="0" font-size="11.8" text-anchor="end" fill="#000">cITP</text></g>
<g transform="translate(7.58,232.70) scale(1.070,1)"><text x="0" y="0" font-size="17.6" font-weight="bold">D</text></g>
<g transform="translate(116.54,244.90) rotate(0) scale(1.0892,1.0)"><text x="0.00" y="0" fill="#000"><tspan font-size="13.00" dx="0.00" dy="0.00">CD19</tspan><tspan font-size="7.80" dx="0.00" dy="-3.25">+</tspan><tspan font-size="13.00" dx="0.00" dy="3.25"> B cells</tspan></text></g>
<line x1="44.50" y1="250.40" x2="275.00" y2="250.40" stroke="#000" stroke-width="1.5" stroke-linecap="butt"/>
<rect x="45.3" y="254.5" width="114.2" height="113.9" fill="none" stroke="#c4c4c4" stroke-width="1.1"/>
<rect x="162.4" y="254.4" width="114.3" height="114.8" fill="none" stroke="#c4c4c4" stroke-width="1.1"/>
<g transform="translate(93.79,267.85) rotate(0) scale(1.0108,1.05)"><text x="0.00" y="0" fill="#000"><tspan font-size="14.00" dx="0.00" dy="0.00">HC</tspan></text></g>
<g transform="translate(209.14,267.80) rotate(0) scale(0.9598,1.05)"><text x="0.00" y="0" fill="#000"><tspan font-size="14.00" dx="0.00" dy="0.00">pES</tspan></text></g>
<line x1="38.70" y1="330.50" x2="38.70" y2="266.00" stroke="#000" stroke-width="1.4" stroke-linecap="butt"/>
<path d="M38.7,260.0 L35.1,267.0 L42.3,267.0 Z" fill="#000"/>
<line x1="77.50" y1="377.20" x2="262.00" y2="377.20" stroke="#000" stroke-width="1.4" stroke-linecap="butt"/>
<path d="M272.8,377.2 L260.0,373.9 L260.0,380.5 Z" fill="#000"/>
<g transform="translate(44.54,380.50) rotate(0) scale(0.9290,1.05)"><text x="0.00" y="0" fill="#000"><tspan font-size="12.60" dx="0.00" dy="0.00">CD27</tspan></text></g>
<g transform="translate(40.3,362.0) rotate(-90)"><text x="0" y="0" font-size="12.6">IgD</text></g>
<rect x="85.6" y="330.5" width="38.9" height="26.5" fill="#c3e6f2" stroke="#80888c" stroke-width="0.9"/>
<rect x="202.6" y="329.6" width="36.7" height="26.0" fill="#c3e6f2" stroke="#80888c" stroke-width="0.9"/>
<g style="mix-blend-mode:multiply">
<g filter="url(#blur)">
<path d="M80,335 L104,336.2 C108,335.6 113,336 116.5,339 C119.5,342 119.5,347 116,350 C112.5,352.5 106,352 100,351 L80,351.5 Z" fill="#c2c2c2"/>
<path d="M82,337.6 L102,338.4 C106,338 110,338.6 112,340.5 L112,347 C109,349 104,349 100,348.6 L82,349 Z" fill="#a2a2a2"/>
<path d="M59.2,293 C59.8,288 66,286.3 71,286.5 C77,286.8 81.8,289 82.8,294 L83.2,334 C84.8,337 86,340 86,344 C86,350.5 82,354 76,354.2 C70,354.4 65.6,351 65.6,345 C65.6,340 66.2,337 65.5,333 C63.8,322 58.8,307 58.4,300 C58.2,297 58.5,295 59.2,293 Z" fill="#c4c4c4"/>
<path d="M60.8,294 C61.3,289.8 66.5,288.2 71,288.4 C76.5,288.6 80.5,290.4 81.3,295 L81.7,334.5 C83.2,337.5 84.3,340.5 84.3,344 C84.3,349.5 81,352.5 76,352.6 C71,352.8 67.3,350 67.3,345 C67.3,340 67.8,337 67.1,333 C65.5,322 60.6,308 60.2,301 C60,298 60.2,296 60.8,294 Z" fill="#8c8c8c"/>
<path d="M63,296 C63.5,292 67.5,290.8 71,291 C75.5,291.2 78.6,292.6 79.3,296.5 L79.8,335 C81.3,338 82.4,341 82.4,344 C82.4,348.5 79.5,350.8 76,350.9 C72,351 69.2,349 69.2,345 C69.2,340 69.6,337 69,333 C67.4,322 62.8,309 62.4,302 C62.2,299.5 62.4,297.6 63,296 Z" fill="#5c5c5c"/>
<ellipse cx="75.8" cy="344.2" rx="8.6" ry="8.2" fill="#555"/>
<ellipse cx="72.0" cy="344" rx="3.0" ry="4.0" fill="#2e2e2e"/>
<ellipse cx="78.6" cy="343.5" rx="3.0" ry="4.0" fill="#2e2e2e"/>
<ellipse cx="67" cy="300" rx="2.6" ry="5" fill="#444"/>
<ellipse cx="76.2" cy="301" rx="2.4" ry="6" fill="#444"/>
</g>
<circle cx="68.7" cy="326.6" r="0.54" fill="#000000" opacity="0.15"/>
<circle cx="66.7" cy="304.8" r="0.78" fill="#000000" opacity="0.15"/>
<circle cx="77.1" cy="319.1" r="0.59" fill="#000000" opacity="0.15"/>
<circle cx="73.4" cy="342.2" r="0.94" fill="#ffffff" opacity="0.18"/>
<circle cx="74.1" cy="294.8" r="0.85" fill="#000000" opacity="0.15"/>
<circle cx="67.4" cy="292.8" r="0.78" fill="#000000" opacity="0.15"/>
<circle cx="74.9" cy="342.8" r="1.05" fill="#000000" opacity="0.15"/>
<circle cx="69.1" cy="338.3" r="1.06" fill="#ffffff" opacity="0.18"/>
<circle cx="77.8" cy="296.7" r="0.63" fill="#ffffff" opacity="0.18"/>
<circle cx="73.3" cy="308.8" r="0.73" fill="#ffffff" opacity="0.18"/>
<circle cx="68.3" cy="325.5" r="1.04" fill="#ffffff" opacity="0.18"/>
<circle cx="74.3" cy="345.8" r="1.09" fill="#000000" opacity="0.15"/>
<circle cx="74.1" cy="300.6" r="1.08" fill="#000000" opacity="0.15"/>
<circle cx="78.3" cy="324.6" r="0.63" fill="#000000" opacity="0.15"/>
<circle cx="77.0" cy="324.8" r="0.54" fill="#ffffff" opacity="0.18"/>
<circle cx="77.4" cy="349.4" r="0.98" fill="#ffffff" opacity="0.18"/>
<circle cx="69.4" cy="299.9" r="0.96" fill="#ffffff" opacity="0.18"/>
<circle cx="77.7" cy="293.6" r="0.53" fill="#000000" opacity="0.15"/>
<circle cx="74.9" cy="310.5" r="1.09" fill="#000000" opacity="0.15"/>
<circle cx="71.1" cy="349.9" r="0.55" fill="#ffffff" opacity="0.18"/>
<circle cx="72.8" cy="292.9" r="0.74" fill="#ffffff" opacity="0.18"/>
<circle cx="73.0" cy="300.2" r="1.02" fill="#ffffff" opacity="0.18"/>
<circle cx="78.1" cy="313.3" r="0.81" fill="#ffffff" opacity="0.18"/>
<circle cx="73.6" cy="326.1" r="0.87" fill="#ffffff" opacity="0.18"/>
<circle cx="69.8" cy="333.5" r="0.68" fill="#ffffff" opacity="0.18"/>
<circle cx="71.9" cy="291.7" r="0.85" fill="#ffffff" opacity="0.18"/>
<circle cx="73.4" cy="294.5" r="0.78" fill="#000000" opacity="0.15"/>
<circle cx="74.2" cy="311.8" r="0.94" fill="#000000" opacity="0.15"/>
<circle cx="74.2" cy="347.8" r="0.77" fill="#ffffff" opacity="0.18"/>
<circle cx="72.7" cy="309.9" r="0.69" fill="#ffffff" opacity="0.18"/>
<circle cx="68.6" cy="326.1" r="0.73" fill="#ffffff" opacity="0.18"/>
<circle cx="75.9" cy="292.6" r="0.94" fill="#ffffff" opacity="0.18"/>
<circle cx="67.6" cy="304.1" r="0.64" fill="#000000" opacity="0.15"/>
<circle cx="74.6" cy="297.0" r="0.70" fill="#ffffff" opacity="0.18"/>
<circle cx="77.0" cy="316.9" r="0.60" fill="#000000" opacity="0.15"/>
<circle cx="77.9" cy="317.6" r="0.57" fill="#ffffff" opacity="0.18"/>
<circle cx="71.5" cy="302.3" r="1.00" fill="#000000" opacity="0.15"/>
<circle cx="65.3" cy="307.4" r="0.89" fill="#000000" opacity="0.15"/>
<circle cx="76.5" cy="311.4" r="0.68" fill="#ffffff" opacity="0.18"/>
<circle cx="76.3" cy="307.0" r="0.75" fill="#ffffff" opacity="0.18"/>
<circle cx="69.6" cy="315.2" r="0.59" fill="#000000" opacity="0.15"/>
<circle cx="77.8" cy="349.2" r="1.07" fill="#ffffff" opacity="0.18"/>
<circle cx="78.7" cy="304.1" r="1.00" fill="#000000" opacity="0.15"/>
<circle cx="73.9" cy="321.6" r="0.70" fill="#ffffff" opacity="0.18"/>
<circle cx="66.1" cy="295.0" r="0.67" fill="#ffffff" opacity="0.18"/>
<circle cx="76.6" cy="293.7" r="0.92" fill="#000000" opacity="0.15"/>
<circle cx="78.6" cy="343.9" r="0.85" fill="#000000" opacity="0.15"/>
<circle cx="73.9" cy="322.0" r="1.06" fill="#ffffff" opacity="0.18"/>
<circle cx="73.0" cy="311.1" r="1.02" fill="#ffffff" opacity="0.18"/>
<circle cx="70.6" cy="337.2" r="0.62" fill="#ffffff" opacity="0.18"/>
<circle cx="71.6" cy="339.2" r="0.98" fill="#ffffff" opacity="0.18"/>
<circle cx="78.6" cy="338.6" r="0.50" fill="#000000" opacity="0.15"/>
<circle cx="73.3" cy="341.9" r="0.66" fill="#ffffff" opacity="0.18"/>
<circle cx="69.6" cy="318.9" r="0.50" fill="#000000" opacity="0.15"/>
<circle cx="64.2" cy="295.0" r="1.01" fill="#000000" opacity="0.15"/>
<circle cx="67.7" cy="309.6" r="0.89" fill="#ffffff" opacity="0.18"/>
<circle cx="72.6" cy="312.3" r="0.70" fill="#ffffff" opacity="0.18"/>
<circle cx="74.9" cy="313.4" r="0.61" fill="#ffffff" opacity="0.18"/>
<circle cx="68.7" cy="326.7" r="0.73" fill="#000000" opacity="0.15"/>
<circle cx="76.4" cy="327.8" r="0.72" fill="#ffffff" opacity="0.18"/>
<circle cx="70.9" cy="332.5" r="0.92" fill="#ffffff" opacity="0.18"/>
<circle cx="70.3" cy="305.5" r="0.92" fill="#ffffff" opacity="0.18"/>
<circle cx="69.7" cy="342.9" r="0.72" fill="#000000" opacity="0.15"/>
<circle cx="78.2" cy="337.7" r="0.78" fill="#ffffff" opacity="0.18"/>
<circle cx="73.9" cy="343.4" r="0.90" fill="#000000" opacity="0.15"/>
<circle cx="75.2" cy="324.3" r="0.85" fill="#ffffff" opacity="0.18"/>
<circle cx="75.9" cy="293.6" r="0.56" fill="#ffffff" opacity="0.18"/>
<circle cx="77.8" cy="301.6" r="1.00" fill="#ffffff" opacity="0.18"/>
<circle cx="74.1" cy="340.3" r="0.85" fill="#000000" opacity="0.15"/>
<circle cx="76.4" cy="293.1" r="0.81" fill="#000000" opacity="0.15"/>
<circle cx="74.9" cy="297.3" r="1.06" fill="#000000" opacity="0.15"/>
<circle cx="72.2" cy="339.9" r="0.61" fill="#ffffff" opacity="0.18"/>
<circle cx="75.6" cy="314.2" r="0.74" fill="#ffffff" opacity="0.18"/>
<circle cx="68.3" cy="315.7" r="0.80" fill="#ffffff" opacity="0.18"/>
<circle cx="75.5" cy="300.5" r="0.95" fill="#000000" opacity="0.15"/>
<circle cx="74.1" cy="321.5" r="0.89" fill="#ffffff" opacity="0.18"/>
<circle cx="78.2" cy="299.8" r="0.95" fill="#ffffff" opacity="0.18"/>
<circle cx="70.0" cy="333.4" r="0.66" fill="#ffffff" opacity="0.18"/>
<circle cx="67.7" cy="304.7" r="1.07" fill="#000000" opacity="0.15"/>
<circle cx="69.4" cy="341.4" r="0.66" fill="#ffffff" opacity="0.18"/>
<circle cx="65.9" cy="292.4" r="0.73" fill="#ffffff" opacity="0.18"/>
<circle cx="70.6" cy="326.3" r="1.00" fill="#ffffff" opacity="0.18"/>
<circle cx="76.8" cy="323.9" r="0.93" fill="#ffffff" opacity="0.18"/>
<circle cx="77.4" cy="314.6" r="1.08" fill="#000000" opacity="0.15"/>
<circle cx="70.4" cy="304.5" r="0.93" fill="#ffffff" opacity="0.18"/>
<circle cx="74.2" cy="347.6" r="0.65" fill="#000000" opacity="0.15"/>
<circle cx="65.4" cy="306.3" r="0.92" fill="#ffffff" opacity="0.18"/>
<circle cx="77.5" cy="344.1" r="1.02" fill="#ffffff" opacity="0.18"/>
<circle cx="67.6" cy="316.0" r="0.55" fill="#000000" opacity="0.15"/>
<circle cx="67.3" cy="312.0" r="0.91" fill="#ffffff" opacity="0.18"/>
<circle cx="69.9" cy="319.7" r="0.85" fill="#ffffff" opacity="0.18"/>
<circle cx="71.8" cy="298.0" r="0.90" fill="#ffffff" opacity="0.18"/>
<circle cx="78.4" cy="296.7" r="0.72" fill="#000000" opacity="0.15"/>
<circle cx="75.9" cy="335.7" r="0.91" fill="#ffffff" opacity="0.18"/>
<circle cx="73.8" cy="338.6" r="0.95" fill="#ffffff" opacity="0.18"/>
<circle cx="71.7" cy="297.7" r="0.71" fill="#ffffff" opacity="0.18"/>
<circle cx="74.9" cy="331.0" r="0.61" fill="#ffffff" opacity="0.18"/>
<circle cx="73.6" cy="328.2" r="1.03" fill="#ffffff" opacity="0.18"/>
<circle cx="73.8" cy="298.3" r="0.58" fill="#000000" opacity="0.15"/>
<circle cx="72.8" cy="323.7" r="0.77" fill="#000000" opacity="0.15"/>
<circle cx="67.6" cy="301.4" r="0.93" fill="#ffffff" opacity="0.18"/>
<circle cx="75.6" cy="323.0" r="0.72" fill="#000000" opacity="0.15"/>
<circle cx="66.8" cy="313.6" r="0.53" fill="#000000" opacity="0.15"/>
<circle cx="71.1" cy="305.6" r="0.71" fill="#000000" opacity="0.15"/>
<g filter="url(#blur3)">
<ellipse cx="108.4" cy="343.6" rx="8.2" ry="7.0" fill="#000" fill-opacity="0.18"/>
<ellipse cx="108.5" cy="343.6" rx="8.2" ry="7.0" fill="none" stroke="#1a1a1a" stroke-width="1.0" stroke-opacity="0.3"/>
<ellipse cx="108.5" cy="343.6" rx="6.9" ry="5.8" fill="none" stroke="#1a1a1a" stroke-width="1.0" stroke-opacity="0.42"/>
<ellipse cx="108.5" cy="343.6" rx="5.6" ry="4.6" fill="none" stroke="#1a1a1a" stroke-width="1.0" stroke-opacity="0.55"/>
<ellipse cx="108.5" cy="343.6" rx="4.3" ry="3.5" fill="none" stroke="#1a1a1a" stroke-width="1.0" stroke-opacity="0.6"/>
<ellipse cx="108.5" cy="343.6" rx="3.1" ry="2.4" fill="none" stroke="#1a1a1a" stroke-width="1.0" stroke-opacity="0.5"/>
<ellipse cx="108.8" cy="343.6" rx="1.9" ry="1.3" fill="#e8f4f8"/>
</g>
<path d="M72.2,300 L72.2,350" stroke="#d8d8d8" stroke-width="0.7" opacity="0.45"/>
<path d="M86,341.5 L100,341.8 M86,345.5 L99,345.8" stroke="#e8e8e8" stroke-width="0.6" opacity="0.6"/>
<path d="M184.0,289.0 C184.0,283.0 187.0,281.0 190.2,281.0 C201.5,281.0 210.7,288.0 210.7,295.5 C210.7,303.5 199.4,324.5 191.4,333.5 C188.7,334.0 184.0,323.5 184.0,289.0 Z" fill="none" stroke="#4a4a4a" stroke-width="0.7" stroke-opacity="0.8"/>
<path d="M184.4,289.9 C184.4,283.9 187.4,281.9 190.2,281.9 C200.0,281.9 208.0,288.0 208.0,295.5 C208.0,303.5 198.2,322.4 191.4,331.4 C188.8,331.9 184.4,321.4 184.4,289.9 Z" fill="none" stroke="#4a4a4a" stroke-width="0.7" stroke-opacity="0.8"/>
<path d="M184.8,290.8 C184.8,284.8 187.8,282.8 190.3,282.8 C198.6,282.8 205.3,288.0 205.3,295.5 C205.3,303.5 197.0,320.3 191.5,329.3 C188.8,329.8 184.8,319.3 184.8,290.8 Z" fill="none" stroke="#4a4a4a" stroke-width="0.7" stroke-opacity="0.8"/>
<path d="M185.2,291.7 C185.2,285.7 188.2,283.7 190.3,283.7 C197.2,283.7 202.8,288.0 202.8,295.5 C202.8,303.5 196.0,318.2 191.5,327.2 C188.8,327.7 185.2,317.2 185.2,291.7 Z" fill="#000" fill-opacity="0.11" stroke="#3a3a3a" stroke-width="0.6" stroke-opacity="0.65"/>
<path d="M185.6,292.6 C185.6,286.6 188.6,284.6 190.4,284.6 C196.1,284.6 200.8,288.0 200.8,295.5 C200.8,303.5 195.1,316.1 191.6,325.1 C188.9,325.6 185.6,315.1 185.6,292.6 Z" fill="#000" fill-opacity="0.11" stroke="#3a3a3a" stroke-width="0.6" stroke-opacity="0.65"/>
<path d="M186.0,293.5 C186.0,287.5 189.0,285.5 190.4,285.5 C195.2,285.5 199.0,288.0 199.0,295.5 C199.0,303.5 194.3,314.0 191.6,323.0 C188.9,323.5 186.0,313.0 186.0,293.5 Z" fill="#000" fill-opacity="0.11" stroke="#3a3a3a" stroke-width="0.6" stroke-opacity="0.65"/>
<path d="M186.4,294.4 C186.4,288.4 189.4,286.4 190.5,286.4 C194.3,286.4 197.5,288.0 197.5,295.5 C197.5,303.5 193.7,311.9 191.7,320.9 C189.0,321.4 186.4,310.9 186.4,294.4 Z" fill="#000" fill-opacity="0.17" stroke="#3a3a3a" stroke-width="0.6" stroke-opacity="0.65"/>
<path d="M186.8,295.3 C186.8,289.3 189.8,287.3 190.5,287.3 C193.7,287.3 196.2,288.0 196.2,295.5 C196.2,303.5 193.1,309.8 191.7,318.8 C189.0,319.3 186.8,308.8 186.8,295.3 Z" fill="#000" fill-opacity="0.17" stroke="#3a3a3a" stroke-width="0.6" stroke-opacity="0.65"/>
<path d="M187.2,296.2 C187.2,290.2 190.2,288.2 190.6,288.2 C193.0,288.2 195.0,288.0 195.0,295.5 C195.0,303.5 192.6,307.7 191.8,316.7 C189.1,317.2 187.2,306.7 187.2,296.2 Z" fill="#000" fill-opacity="0.17" stroke="#3a3a3a" stroke-width="0.6" stroke-opacity="0.65"/>
<path d="M187.6,297.1 C187.6,291.1 190.6,289.1 190.6,289.1 C192.5,289.1 194.0,288.0 194.0,295.5 C194.0,303.5 192.2,305.6 191.8,314.6 C189.1,315.1 187.6,304.6 187.6,297.1 Z" fill="#000" fill-opacity="0.17" stroke="#3a3a3a" stroke-width="0.6" stroke-opacity="0.65"/>
<path d="M188.0,298.0 C188.0,292.0 191.0,290.0 190.7,290.0 C192.1,290.0 193.2,288.0 193.2,295.5 C193.2,303.5 191.8,303.5 191.9,312.5 C189.2,313.0 188.0,302.5 188.0,298.0 Z" fill="#000" fill-opacity="0.17" stroke="#3a3a3a" stroke-width="0.6" stroke-opacity="0.65"/>
<path d="M188.4,298.9 C188.4,292.9 191.4,290.9 190.8,290.9 C191.7,290.9 192.5,288.0 192.5,295.5 C192.5,303.5 191.5,301.4 191.9,310.4 C189.2,310.9 188.4,300.4 188.4,298.9 Z" fill="#000" fill-opacity="0.17" stroke="#3a3a3a" stroke-width="0.6" stroke-opacity="0.65"/>
<g filter="url(#blur2)">
<ellipse cx="188.6" cy="294" rx="3.2" ry="9" fill="#000" fill-opacity="0.3"/>
</g>
<ellipse cx="193.00" cy="343.00" rx="9.0" ry="7.8" fill="#000" fill-opacity="0.05" stroke="#666" stroke-width="0.5" stroke-opacity="0.48"/>
<ellipse cx="192.85" cy="343.12" rx="7.8" ry="6.6" fill="#000" fill-opacity="0.05" stroke="#666" stroke-width="0.5" stroke-opacity="0.44"/>
<ellipse cx="192.70" cy="343.24" rx="6.6" ry="5.4" fill="#000" fill-opacity="0.05" stroke="#666" stroke-width="0.5" stroke-opacity="0.40"/>
<ellipse cx="192.55" cy="343.36" rx="5.4" ry="4.3" fill="#000" fill-opacity="0.05" stroke="#666" stroke-width="0.5" stroke-opacity="0.40"/>
<ellipse cx="192.40" cy="343.48" rx="4.2" ry="3.3" fill="#000" fill-opacity="0.05" stroke="#666" stroke-width="0.5" stroke-opacity="0.36"/>
<ellipse cx="192.6" cy="343.6" rx="2.5" ry="1.7" fill="#fff"/>
<path d="M189.5,333.5 C188,335 186.5,336.5 185.5,339 M192.5,333 C195,334.5 198,336 200.5,339" fill="none" stroke="#666" stroke-width="0.55"/>
<path d="M203,339.2 C207,340.5 211,341.8 214.6,343 C211,344.5 207,346 203,347.6 M203,341.2 L212.5,343.2 L203,345.6" fill="none" stroke="#333" stroke-width="0.6" opacity="0.85"/>
<path d="M214.6,343 L228,341.5 M214,344.2 L224,343.6" stroke="#555" stroke-width="0.5" opacity="0.6"/>
<ellipse cx="211.5" cy="343.4" rx="1.6" ry="1.2" fill="#333" opacity="0.6"/>
</g>
<rect x="84.3" y="313.6" width="0.7" height="0.7" fill="#333" opacity="0.5"/>
<rect x="84.1" y="304.5" width="0.7" height="0.7" fill="#333" opacity="0.5"/>
<rect x="87.7" y="305.7" width="0.7" height="0.7" fill="#333" opacity="0.5"/>
<rect x="88.6" y="312.7" width="0.7" height="0.7" fill="#333" opacity="0.5"/>
<rect x="88.2" y="310.7" width="0.7" height="0.7" fill="#333" opacity="0.5"/>
<rect x="85.0" y="310.0" width="0.7" height="0.7" fill="#333" opacity="0.5"/>
<rect x="91.3" y="317.4" width="0.7" height="0.7" fill="#333" opacity="0.35"/>
<rect x="85.5" y="313.5" width="0.7" height="0.7" fill="#333" opacity="0.5"/>
<rect x="87.4" y="302.8" width="0.7" height="0.7" fill="#333" opacity="0.5"/>
<rect x="84.5" y="307.5" width="0.7" height="0.7" fill="#333" opacity="0.5"/>
<rect x="85.6" y="300.9" width="0.7" height="0.7" fill="#333" opacity="0.5"/>
<rect x="84.5" y="312.3" width="0.7" height="0.7" fill="#333" opacity="0.5"/>
<rect x="86.3" y="326.9" width="0.7" height="0.7" fill="#333" opacity="0.5"/>
<rect x="85.8" y="321.2" width="0.7" height="0.7" fill="#333" opacity="0.5"/>
<rect x="86.1" y="299.9" width="0.7" height="0.7" fill="#333" opacity="0.5"/>
<rect x="84.7" y="306.8" width="0.7" height="0.7" fill="#333" opacity="0.5"/>
<rect x="86.2" y="310.7" width="0.7" height="0.7" fill="#333" opacity="0.5"/>
<rect x="85.2" y="297.5" width="0.7" height="0.7" fill="#333" opacity="0.5"/>
<rect x="85.6" y="321.4" width="0.7" height="0.7" fill="#333" opacity="0.5"/>
<rect x="87.0" y="310.7" width="0.7" height="0.7" fill="#333" opacity="0.5"/>
<rect x="85.1" y="291.6" width="0.7" height="0.7" fill="#333" opacity="0.5"/>
<rect x="83.2" y="322.4" width="0.7" height="0.7" fill="#333" opacity="0.5"/>
<rect x="93.1" y="304.5" width="0.7" height="0.7" fill="#333" opacity="0.35"/>
<rect x="83.5" y="299.0" width="0.7" height="0.7" fill="#333" opacity="0.5"/>
<rect x="85.5" y="307.3" width="0.7" height="0.7" fill="#333" opacity="0.5"/>
<rect x="90.3" y="317.1" width="0.7" height="0.7" fill="#333" opacity="0.35"/>
<rect x="86.3" y="318.4" width="0.7" height="0.7" fill="#333" opacity="0.5"/>
<rect x="90.2" y="312.0" width="0.7" height="0.7" fill="#333" opacity="0.35"/>
<rect x="83.6" y="293.7" width="0.7" height="0.7" fill="#333" opacity="0.5"/>
<rect x="86.1" y="301.3" width="0.7" height="0.7" fill="#333" opacity="0.5"/>
<rect x="85.3" y="294.1" width="0.7" height="0.7" fill="#333" opacity="0.5"/>
<rect x="87.8" y="302.2" width="0.7" height="0.7" fill="#333" opacity="0.5"/>
<rect x="90.3" y="310.6" width="0.7" height="0.7" fill="#333" opacity="0.35"/>
<rect x="90.2" y="314.4" width="0.7" height="0.7" fill="#333" opacity="0.35"/>
<rect x="84.8" y="299.9" width="0.7" height="0.7" fill="#333" opacity="0.5"/>
<rect x="88.6" y="318.8" width="0.7" height="0.7" fill="#333" opacity="0.5"/>
<rect x="88.5" y="309.7" width="0.7" height="0.7" fill="#333" opacity="0.5"/>
<rect x="84.2" y="312.8" width="0.7" height="0.7" fill="#333" opacity="0.5"/>
<rect x="91.0" y="314.8" width="0.7" height="0.7" fill="#333" opacity="0.35"/>
<rect x="85.6" y="314.0" width="0.7" height="0.7" fill="#333" opacity="0.5"/>
<rect x="90.8" y="322.1" width="0.7" height="0.7" fill="#333" opacity="0.35"/>
<rect x="87.8" y="313.8" width="0.7" height="0.7" fill="#333" opacity="0.5"/>
<rect x="92.9" y="301.0" width="0.7" height="0.7" fill="#333" opacity="0.35"/>
<rect x="83.9" y="319.2" width="0.7" height="0.7" fill="#333" opacity="0.5"/>
<rect x="89.6" y="325.7" width="0.7" height="0.7" fill="#333" opacity="0.5"/>
<rect x="85.8" y="306.3" width="0.7" height="0.7" fill="#333" opacity="0.5"/>
<rect x="84.6" y="315.1" width="0.7" height="0.7" fill="#333" opacity="0.5"/>
<rect x="83.6" y="320.6" width="0.7" height="0.7" fill="#333" opacity="0.5"/>
<rect x="86.3" y="303.4" width="0.7" height="0.7" fill="#333" opacity="0.5"/>
<rect x="88.2" y="308.3" width="0.7" height="0.7" fill="#333" opacity="0.5"/>
<rect x="87.4" y="318.4" width="0.7" height="0.7" fill="#333" opacity="0.5"/>
<rect x="90.3" y="303.1" width="0.7" height="0.7" fill="#333" opacity="0.35"/>
<rect x="89.9" y="306.5" width="0.7" height="0.7" fill="#333" opacity="0.5"/>
<rect x="83.7" y="304.7" width="0.7" height="0.7" fill="#333" opacity="0.5"/>
<rect x="90.0" y="296.7" width="0.7" height="0.7" fill="#333" opacity="0.35"/>
<rect x="89.3" y="294.0" width="0.7" height="0.7" fill="#333" opacity="0.5"/>
<rect x="86.9" y="314.9" width="0.7" height="0.7" fill="#333" opacity="0.5"/>
<rect x="88.6" y="317.4" width="0.7" height="0.7" fill="#333" opacity="0.5"/>
<rect x="84.7" y="309.6" width="0.7" height="0.7" fill="#333" opacity="0.5"/>
<rect x="83.8" y="314.3" width="0.7" height="0.7" fill="#333" opacity="0.5"/>
<rect x="83.9" y="311.1" width="0.7" height="0.7" fill="#333" opacity="0.5"/>
<rect x="85.9" y="308.0" width="0.7" height="0.7" fill="#333" opacity="0.5"/>
<rect x="86.8" y="314.2" width="0.7" height="0.7" fill="#333" opacity="0.5"/>
<rect x="93.1" y="311.6" width="0.7" height="0.7" fill="#333" opacity="0.35"/>
<rect x="85.1" y="303.9" width="0.7" height="0.7" fill="#333" opacity="0.5"/>
<rect x="83.1" y="318.2" width="0.7" height="0.7" fill="#333" opacity="0.5"/>
<rect x="84.7" y="312.2" width="0.7" height="0.7" fill="#333" opacity="0.5"/>
<rect x="88.6" y="310.7" width="0.7" height="0.7" fill="#333" opacity="0.5"/>
<rect x="85.0" y="310.6" width="0.7" height="0.7" fill="#333" opacity="0.5"/>
<rect x="85.2" y="315.2" width="0.7" height="0.7" fill="#333" opacity="0.5"/>
<rect x="84.4" y="302.3" width="0.7" height="0.7" fill="#333" opacity="0.5"/>
<rect x="95.2" y="311.9" width="0.7" height="0.7" fill="#333" opacity="0.35"/>
<rect x="85.8" y="306.9" width="0.7" height="0.7" fill="#333" opacity="0.5"/>
<rect x="84.1" y="307.3" width="0.7" height="0.7" fill="#333" opacity="0.5"/>
<rect x="96.6" y="302.6" width="0.7" height="0.7" fill="#333" opacity="0.35"/>
<rect x="88.0" y="295.1" width="0.7" height="0.7" fill="#333" opacity="0.5"/>
<rect x="83.3" y="318.5" width="0.7" height="0.7" fill="#333" opacity="0.5"/>
<rect x="87.3" y="324.4" width="0.7" height="0.7" fill="#333" opacity="0.5"/>
<rect x="91.5" y="304.1" width="0.7" height="0.7" fill="#333" opacity="0.35"/>
<rect x="84.7" y="314.9" width="0.7" height="0.7" fill="#333" opacity="0.5"/>
<rect x="88.4" y="292.1" width="0.7" height="0.7" fill="#333" opacity="0.5"/>
<rect x="86.4" y="291.6" width="0.7" height="0.7" fill="#333" opacity="0.5"/>
<rect x="83.9" y="321.1" width="0.7" height="0.7" fill="#333" opacity="0.5"/>
<rect x="83.7" y="310.1" width="0.7" height="0.7" fill="#333" opacity="0.5"/>
<rect x="87.1" y="299.7" width="0.7" height="0.7" fill="#333" opacity="0.3"/>
<rect x="96.1" y="317.1" width="0.7" height="0.7" fill="#333" opacity="0.3"/>
<rect x="123.3" y="306.8" width="0.7" height="0.7" fill="#333" opacity="0.3"/>
<rect x="122.5" y="329.5" width="0.7" height="0.7" fill="#333" opacity="0.3"/>
<rect x="123.2" y="303.3" width="0.7" height="0.7" fill="#333" opacity="0.3"/>
<rect x="94.6" y="297.5" width="0.7" height="0.7" fill="#333" opacity="0.3"/>
<rect x="93.7" y="296.6" width="0.7" height="0.7" fill="#333" opacity="0.3"/>
<rect x="110.3" y="325.8" width="0.7" height="0.7" fill="#333" opacity="0.3"/>
<rect x="118.8" y="308.1" width="0.7" height="0.7" fill="#333" opacity="0.3"/>
<rect x="111.5" y="321.6" width="0.7" height="0.7" fill="#333" opacity="0.3"/>
<rect x="89.3" y="315.7" width="0.7" height="0.7" fill="#333" opacity="0.3"/>
<rect x="121.5" y="320.9" width="0.7" height="0.7" fill="#333" opacity="0.3"/>
<rect x="115.3" y="308.1" width="0.7" height="0.7" fill="#333" opacity="0.3"/>
<rect x="93.0" y="321.1" width="0.7" height="0.7" fill="#333" opacity="0.3"/>
<rect x="99.0" y="321.6" width="0.7" height="0.7" fill="#333" opacity="0.3"/>
<rect x="123.9" y="304.6" width="0.7" height="0.7" fill="#333" opacity="0.3"/>
<rect x="101.7" y="327.8" width="0.7" height="0.7" fill="#333" opacity="0.3"/>
<rect x="114.3" y="295.1" width="0.7" height="0.7" fill="#333" opacity="0.3"/>
<rect x="54.8" y="294.3" width="0.7" height="0.7" fill="#333" opacity="0.35"/>
<rect x="59.4" y="321.9" width="0.7" height="0.7" fill="#333" opacity="0.35"/>
<rect x="54.9" y="322.7" width="0.7" height="0.7" fill="#333" opacity="0.35"/>
<rect x="59.9" y="315.6" width="0.7" height="0.7" fill="#333" opacity="0.35"/>
<rect x="56.1" y="311.0" width="0.7" height="0.7" fill="#333" opacity="0.35"/>
<rect x="54.8" y="288.6" width="0.7" height="0.7" fill="#333" opacity="0.35"/>
<rect x="59.8" y="315.3" width="0.7" height="0.7" fill="#333" opacity="0.35"/>
<rect x="57.2" y="327.2" width="0.7" height="0.7" fill="#333" opacity="0.35"/>
<rect x="56.6" y="324.6" width="0.7" height="0.7" fill="#333" opacity="0.35"/>
<rect x="59.0" y="296.9" width="0.7" height="0.7" fill="#333" opacity="0.35"/>
<rect x="55.5" y="300.3" width="0.7" height="0.7" fill="#333" opacity="0.35"/>
<rect x="55.4" y="312.6" width="0.7" height="0.7" fill="#333" opacity="0.35"/>
<rect x="55.6" y="305.6" width="0.7" height="0.7" fill="#333" opacity="0.35"/>
<rect x="54.8" y="326.2" width="0.7" height="0.7" fill="#333" opacity="0.35"/>
<rect x="61.6" y="287.7" width="0.7" height="0.7" fill="#333" opacity="0.4"/>
<rect x="64.6" y="291.2" width="0.7" height="0.7" fill="#333" opacity="0.4"/>
<rect x="62.5" y="291.3" width="0.7" height="0.7" fill="#333" opacity="0.4"/>
<rect x="63.5" y="288.3" width="0.7" height="0.7" fill="#333" opacity="0.4"/>
<rect x="63.8" y="284.1" width="0.7" height="0.7" fill="#333" opacity="0.4"/>
<rect x="62.7" y="285.5" width="0.7" height="0.7" fill="#333" opacity="0.4"/>
<rect x="57.1" y="290.4" width="0.7" height="0.7" fill="#333" opacity="0.4"/>
<rect x="59.2" y="287.8" width="0.7" height="0.7" fill="#333" opacity="0.4"/>
<rect x="66.4" y="288.5" width="0.7" height="0.7" fill="#333" opacity="0.4"/>
<rect x="61.2" y="288.1" width="0.7" height="0.7" fill="#333" opacity="0.4"/>
<rect x="64.2" y="290.3" width="0.7" height="0.7" fill="#333" opacity="0.4"/>
<rect x="58.4" y="288.5" width="0.7" height="0.7" fill="#333" opacity="0.4"/>
<rect x="60.2" y="286.2" width="0.7" height="0.7" fill="#333" opacity="0.4"/>
<rect x="67.0" y="288.1" width="0.7" height="0.7" fill="#333" opacity="0.4"/>
<rect x="64.3" y="290.1" width="0.7" height="0.7" fill="#333" opacity="0.4"/>
<rect x="68.9" y="287.5" width="0.7" height="0.7" fill="#333" opacity="0.4"/>
<rect x="217.8" y="300.4" width="0.7" height="0.7" fill="#333" opacity="0.5"/>
<rect x="214.3" y="298.0" width="0.7" height="0.7" fill="#333" opacity="0.5"/>
<rect x="218.2" y="313.7" width="0.7" height="0.7" fill="#333" opacity="0.5"/>
<rect x="217.3" y="308.2" width="0.7" height="0.7" fill="#333" opacity="0.5"/>
<rect x="222.7" y="312.6" width="0.7" height="0.7" fill="#333" opacity="0.35"/>
<rect x="219.2" y="321.0" width="0.7" height="0.7" fill="#333" opacity="0.5"/>
<rect x="209.6" y="297.9" width="0.7" height="0.7" fill="#333" opacity="0.5"/>
<rect x="227.1" y="302.4" width="0.7" height="0.7" fill="#333" opacity="0.35"/>
<rect x="216.5" y="315.7" width="0.7" height="0.7" fill="#333" opacity="0.5"/>
<rect x="214.3" y="314.7" width="0.7" height="0.7" fill="#333" opacity="0.5"/>
<rect x="211.7" y="301.5" width="0.7" height="0.7" fill="#333" opacity="0.5"/>
<rect x="219.1" y="305.3" width="0.7" height="0.7" fill="#333" opacity="0.5"/>
<rect x="233.3" y="318.8" width="0.7" height="0.7" fill="#333" opacity="0.35"/>
<rect x="217.0" y="310.2" width="0.7" height="0.7" fill="#333" opacity="0.5"/>
<rect x="225.5" y="309.6" width="0.7" height="0.7" fill="#333" opacity="0.35"/>
<rect x="211.5" y="310.8" width="0.7" height="0.7" fill="#333" opacity="0.5"/>
<rect x="214.6" y="294.9" width="0.7" height="0.7" fill="#333" opacity="0.5"/>
<rect x="222.6" y="327.5" width="0.7" height="0.7" fill="#333" opacity="0.35"/>
<rect x="214.3" y="306.4" width="0.7" height="0.7" fill="#333" opacity="0.5"/>
<rect x="208.8" y="291.3" width="0.7" height="0.7" fill="#333" opacity="0.5"/>
<rect x="229.0" y="317.5" width="0.7" height="0.7" fill="#333" opacity="0.35"/>
<rect x="225.6" y="316.9" width="0.7" height="0.7" fill="#333" opacity="0.35"/>
<rect x="226.6" y="314.5" width="0.7" height="0.7" fill="#333" opacity="0.35"/>
<rect x="211.5" y="310.8" width="0.7" height="0.7" fill="#333" opacity="0.5"/>
<rect x="206.2" y="302.4" width="0.7" height="0.7" fill="#333" opacity="0.5"/>
<rect x="215.7" y="308.9" width="0.7" height="0.7" fill="#333" opacity="0.5"/>
<rect x="217.1" y="306.7" width="0.7" height="0.7" fill="#333" opacity="0.5"/>
<rect x="209.4" y="314.3" width="0.7" height="0.7" fill="#333" opacity="0.5"/>
<rect x="212.4" y="293.3" width="0.7" height="0.7" fill="#333" opacity="0.5"/>
<rect x="207.0" y="304.0" width="0.7" height="0.7" fill="#333" opacity="0.5"/>
<rect x="211.1" y="306.0" width="0.7" height="0.7" fill="#333" opacity="0.5"/>
<rect x="212.0" y="306.3" width="0.7" height="0.7" fill="#333" opacity="0.5"/>
<rect x="210.9" y="287.6" width="0.7" height="0.7" fill="#333" opacity="0.5"/>
<rect x="215.4" y="317.7" width="0.7" height="0.7" fill="#333" opacity="0.5"/>
<rect x="215.5" y="301.5" width="0.7" height="0.7" fill="#333" opacity="0.5"/>
<rect x="215.6" y="291.4" width="0.7" height="0.7" fill="#333" opacity="0.5"/>
<rect x="203.7" y="324.5" width="0.7" height="0.7" fill="#333" opacity="0.5"/>
<rect x="208.9" y="286.2" width="0.7" height="0.7" fill="#333" opacity="0.5"/>
<rect x="216.0" y="306.3" width="0.7" height="0.7" fill="#333" opacity="0.5"/>
<rect x="223.9" y="313.2" width="0.7" height="0.7" fill="#333" opacity="0.35"/>
<rect x="211.8" y="311.8" width="0.7" height="0.7" fill="#333" opacity="0.5"/>
<rect x="225.2" y="316.6" width="0.7" height="0.7" fill="#333" opacity="0.35"/>
<rect x="220.2" y="289.9" width="0.7" height="0.7" fill="#333" opacity="0.35"/>
<rect x="210.8" y="313.5" width="0.7" height="0.7" fill="#333" opacity="0.5"/>
<rect x="209.6" y="317.9" width="0.7" height="0.7" fill="#333" opacity="0.5"/>
<rect x="216.8" y="315.8" width="0.7" height="0.7" fill="#333" opacity="0.5"/>
<rect x="221.9" y="301.2" width="0.7" height="0.7" fill="#333" opacity="0.35"/>
<rect x="209.3" y="315.4" width="0.7" height="0.7" fill="#333" opacity="0.5"/>
<rect x="219.8" y="304.1" width="0.7" height="0.7" fill="#333" opacity="0.5"/>
<rect x="214.9" y="318.7" width="0.7" height="0.7" fill="#333" opacity="0.5"/>
<rect x="218.3" y="304.3" width="0.7" height="0.7" fill="#333" opacity="0.5"/>
<rect x="218.8" y="311.0" width="0.7" height="0.7" fill="#333" opacity="0.5"/>
<rect x="213.6" y="304.7" width="0.7" height="0.7" fill="#333" opacity="0.5"/>
<rect x="210.1" y="312.9" width="0.7" height="0.7" fill="#333" opacity="0.5"/>
<rect x="212.0" y="285.0" width="0.7" height="0.7" fill="#333" opacity="0.5"/>
<rect x="206.5" y="311.4" width="0.7" height="0.7" fill="#333" opacity="0.5"/>
<rect x="216.5" y="303.3" width="0.7" height="0.7" fill="#333" opacity="0.5"/>
<rect x="210.1" y="285.6" width="0.7" height="0.7" fill="#333" opacity="0.5"/>
<rect x="226.6" y="310.7" width="0.7" height="0.7" fill="#333" opacity="0.35"/>
<rect x="220.7" y="292.5" width="0.7" height="0.7" fill="#333" opacity="0.35"/>
<rect x="218.2" y="316.2" width="0.7" height="0.7" fill="#333" opacity="0.5"/>
<rect x="207.0" y="285.8" width="0.7" height="0.7" fill="#333" opacity="0.5"/>
<rect x="212.3" y="307.2" width="0.7" height="0.7" fill="#333" opacity="0.5"/>
<rect x="217.1" y="313.1" width="0.7" height="0.7" fill="#333" opacity="0.5"/>
<rect x="224.0" y="319.1" width="0.7" height="0.7" fill="#333" opacity="0.35"/>
<rect x="211.3" y="304.1" width="0.7" height="0.7" fill="#333" opacity="0.5"/>
<rect x="215.9" y="283.4" width="0.7" height="0.7" fill="#333" opacity="0.5"/>
<rect x="210.4" y="300.0" width="0.7" height="0.7" fill="#333" opacity="0.5"/>
<rect x="211.5" y="294.1" width="0.7" height="0.7" fill="#333" opacity="0.5"/>
<rect x="217.6" y="308.6" width="0.7" height="0.7" fill="#333" opacity="0.5"/>
<rect x="211.3" y="295.3" width="0.7" height="0.7" fill="#333" opacity="0.5"/>
<rect x="213.2" y="286.1" width="0.7" height="0.7" fill="#333" opacity="0.5"/>
<rect x="210.0" y="299.9" width="0.7" height="0.7" fill="#333" opacity="0.5"/>
<rect x="215.7" y="312.0" width="0.7" height="0.7" fill="#333" opacity="0.5"/>
<rect x="211.7" y="292.9" width="0.7" height="0.7" fill="#333" opacity="0.5"/>
<rect x="210.8" y="303.1" width="0.7" height="0.7" fill="#333" opacity="0.5"/>
<rect x="217.9" y="307.8" width="0.7" height="0.7" fill="#333" opacity="0.5"/>
<rect x="206.2" y="286.4" width="0.7" height="0.7" fill="#333" opacity="0.5"/>
<rect x="209.0" y="294.4" width="0.7" height="0.7" fill="#333" opacity="0.5"/>
<rect x="208.1" y="305.4" width="0.7" height="0.7" fill="#333" opacity="0.5"/>
<rect x="216.2" y="298.6" width="0.7" height="0.7" fill="#333" opacity="0.5"/>
<rect x="230.6" y="299.8" width="0.7" height="0.7" fill="#333" opacity="0.35"/>
<rect x="220.8" y="305.6" width="0.7" height="0.7" fill="#333" opacity="0.35"/>
<rect x="214.6" y="320.6" width="0.7" height="0.7" fill="#333" opacity="0.5"/>
<rect x="218.1" y="316.3" width="0.7" height="0.7" fill="#333" opacity="0.5"/>
<rect x="216.1" y="302.0" width="0.7" height="0.7" fill="#333" opacity="0.5"/>
<rect x="216.1" y="290.0" width="0.7" height="0.7" fill="#333" opacity="0.5"/>
<rect x="221.5" y="290.8" width="0.7" height="0.7" fill="#333" opacity="0.35"/>
<rect x="210.2" y="304.3" width="0.7" height="0.7" fill="#333" opacity="0.5"/>
<rect x="221.3" y="304.3" width="0.7" height="0.7" fill="#333" opacity="0.35"/>
<rect x="216.7" y="313.2" width="0.7" height="0.7" fill="#333" opacity="0.5"/>
<rect x="205.8" y="326.8" width="0.7" height="0.7" fill="#333" opacity="0.5"/>
<rect x="225.3" y="304.2" width="0.7" height="0.7" fill="#333" opacity="0.35"/>
<rect x="214.1" y="298.4" width="0.7" height="0.7" fill="#333" opacity="0.5"/>
<rect x="223.3" y="294.8" width="0.7" height="0.7" fill="#333" opacity="0.35"/>
<rect x="217.4" y="297.8" width="0.7" height="0.7" fill="#333" opacity="0.5"/>
<rect x="206.4" y="313.3" width="0.7" height="0.7" fill="#333" opacity="0.5"/>
<rect x="222.7" y="303.9" width="0.7" height="0.7" fill="#333" opacity="0.35"/>
<rect x="206.6" y="314.5" width="0.7" height="0.7" fill="#333" opacity="0.5"/>
<rect x="211.6" y="308.0" width="0.7" height="0.7" fill="#333" opacity="0.5"/>
<rect x="224.2" y="318.7" width="0.7" height="0.7" fill="#333" opacity="0.35"/>
<rect x="212.0" y="314.2" width="0.7" height="0.7" fill="#333" opacity="0.5"/>
<rect x="206.8" y="303.4" width="0.7" height="0.7" fill="#333" opacity="0.5"/>
<rect x="198.0" y="327.2" width="0.7" height="0.7" fill="#333" opacity="0.5"/>
<rect x="222.9" y="288.2" width="0.7" height="0.7" fill="#333" opacity="0.35"/>
<g transform="translate(133.35,341.00) rotate(0) scale(0.8660,1.0)"><text x="0.00" y="0" fill="#1e1e1e"><tspan font-size="7.50" dx="0.00" dy="0.00">CSMB</tspan></text></g>
<g transform="translate(136.03,348.80) rotate(0) scale(0.9000,1.0)"><text x="0.00" y="0" fill="#1e1e1e"><tspan font-size="7.50" dx="0.00" dy="0.00">9.68</tspan></text></g>
<g transform="translate(246.55,340.70) rotate(0) scale(0.8708,1.0)"><text x="0.00" y="0" fill="#1e1e1e"><tspan font-size="7.50" dx="0.00" dy="0.00">CSMB</tspan></text></g>
<g transform="translate(249.57,347.60) rotate(0) scale(0.8897,1.0)"><text x="0.00" y="0" fill="#1e1e1e"><tspan font-size="7.50" dx="0.00" dy="0.00">1.19</tspan></text></g>
<g transform="translate(354.23,232.50) scale(0.950,1)"><text x="0" y="0" font-size="17.6" font-weight="bold">E</text></g>
<g transform="translate(411.91,236.70) rotate(0) scale(0.9916,1.05)"><text x="0.00" y="0" fill="#000"><tspan font-size="14.00" dx="0.00" dy="0.00">CSMB cells</tspan></text></g>
<line x1="393.60" y1="254.80" x2="393.60" y2="371.60" stroke="#000" stroke-width="1.4" stroke-linecap="butt"/>
<line x1="388.80" y1="255.50" x2="393.60" y2="255.50" stroke="#000" stroke-width="1.4" stroke-linecap="butt"/>
<line x1="388.80" y1="278.60" x2="393.60" y2="278.60" stroke="#000" stroke-width="1.4" stroke-linecap="butt"/>
<line x1="388.80" y1="301.70" x2="393.60" y2="301.70" stroke="#000" stroke-width="1.4" stroke-linecap="butt"/>
<line x1="388.80" y1="324.80" x2="393.60" y2="324.80" stroke="#000" stroke-width="1.4" stroke-linecap="butt"/>
<line x1="388.80" y1="347.90" x2="393.60" y2="347.90" stroke="#000" stroke-width="1.4" stroke-linecap="butt"/>
<line x1="388.80" y1="370.90" x2="393.60" y2="370.90" stroke="#000" stroke-width="1.4" stroke-linecap="butt"/>
<line x1="388.80" y1="359.50" x2="393.60" y2="359.50" stroke="#000" stroke-width="1.4" stroke-linecap="butt"/>
<line x1="388.80" y1="370.90" x2="512.30" y2="370.90" stroke="#000" stroke-width="1.4" stroke-linecap="butt"/>
<line x1="416.80" y1="370.90" x2="416.80" y2="375.30" stroke="#000" stroke-width="1.4" stroke-linecap="butt"/>
<line x1="453.00" y1="370.90" x2="453.00" y2="375.30" stroke="#000" stroke-width="1.4" stroke-linecap="butt"/>
<line x1="488.30" y1="370.90" x2="488.30" y2="375.30" stroke="#000" stroke-width="1.4" stroke-linecap="butt"/>
<line x1="392.60" y1="359.50" x2="512.00" y2="359.50" stroke="#000" stroke-width="1.3" stroke-linecap="butt" stroke-dasharray="3.2 2.6"/>
<g transform="translate(384.60,259.67) scale(1.02,1)"><text x="0" y="0" font-size="11.9" text-anchor="end">10</text></g>
<g transform="translate(384.60,282.77) scale(1.02,1)"><text x="0" y="0" font-size="11.9" text-anchor="end">8</text></g>
<g transform="translate(384.60,305.87) scale(1.02,1)"><text x="0" y="0" font-size="11.9" text-anchor="end">6</text></g>
<g transform="translate(384.60,328.97) scale(1.02,1)"><text x="0" y="0" font-size="11.9" text-anchor="end">4</text></g>
<g transform="translate(384.60,352.06) scale(1.02,1)"><text x="0" y="0" font-size="11.9" text-anchor="end">2</text></g>
<g transform="translate(384.60,375.06) scale(1.02,1)"><text x="0" y="0" font-size="11.9" text-anchor="end">0</text></g>
<g transform="translate(365.90,373.30) rotate(-90) scale(0.7378,1.0)"><text x="0.00" y="0" fill="#222"><tspan font-size="14.80" dx="0.00" dy="0.00">% CD19</tspan><tspan font-size="8.14" dx="0.60" dy="-4.44">+</tspan><tspan font-size="14.80" dx="0.60" dy="4.44">CD27</tspan><tspan font-size="8.14" dx="0.60" dy="-4.44">+</tspan><tspan font-size="14.80" dx="0.60" dy="4.44">IgM</tspan><tspan font-size="8.14" dx="0.60" dy="-4.44">−</tspan><tspan font-size="14.80" dx="0.60" dy="4.44">IgD</tspan><tspan font-size="8.14" dx="0.60" dy="-4.44">−</tspan></text></g>
<line x1="414.20" y1="249.80" x2="488.20" y2="249.80" stroke="#000" stroke-width="1.3" stroke-linecap="butt"/>
<text x="451.40" y="247.00" font-size="9.8" text-anchor="middle" fill="#000">ns</text>
<line x1="414.80" y1="260.30" x2="446.90" y2="260.30" stroke="#000" stroke-width="1.3" stroke-linecap="butt"/>
<polygon points="424.80,253.80 425.33,255.22 426.84,255.29 425.66,256.23 426.06,257.69 424.80,256.85 423.54,257.69 423.94,256.23 422.76,255.29 424.27,255.22" fill="#111"/>
<polygon points="428.90,253.80 429.43,255.22 430.94,255.29 429.76,256.23 430.16,257.69 428.90,256.85 427.64,257.69 428.04,256.23 426.86,255.29 428.37,255.22" fill="#111"/>
<polygon points="433.00,253.80 433.53,255.22 435.04,255.29 433.86,256.23 434.26,257.69 433.00,256.85 431.74,257.69 432.14,256.23 430.96,255.29 432.47,255.22" fill="#111"/>
<polygon points="437.10,253.80 437.63,255.22 439.14,255.29 437.96,256.23 438.36,257.69 437.10,256.85 435.84,257.69 436.24,256.23 435.06,255.29 436.57,255.22" fill="#111"/>
<line x1="452.90" y1="262.90" x2="487.70" y2="262.90" stroke="#000" stroke-width="1.3" stroke-linecap="butt"/>
<polygon points="464.80,256.90 465.33,258.32 466.84,258.39 465.66,259.33 466.06,260.79 464.80,259.95 463.54,260.79 463.94,259.33 462.76,258.39 464.27,258.32" fill="#111"/>
<polygon points="468.90,256.90 469.43,258.32 470.94,258.39 469.76,259.33 470.16,260.79 468.90,259.95 467.64,260.79 468.04,259.33 466.86,258.39 468.37,258.32" fill="#111"/>
<polygon points="473.00,256.90 473.53,258.32 475.04,258.39 473.86,259.33 474.26,260.79 473.00,259.95 471.74,260.79 472.14,259.33 470.96,258.39 472.47,258.32" fill="#111"/>
<polygon points="477.10,256.90 477.63,258.32 479.14,258.39 477.96,259.33 478.36,260.79 477.10,259.95 475.84,260.79 476.24,259.33 475.06,258.39 476.57,258.32" fill="#111"/>
<line x1="405.30" y1="338.40" x2="428.70" y2="338.40" stroke="#000" stroke-width="1.4" stroke-linecap="butt"/>
<line x1="411.00" y1="335.80" x2="423.00" y2="335.80" stroke="#000" stroke-width="1.4" stroke-linecap="butt"/>
<line x1="417.00" y1="335.80" x2="417.00" y2="338.40" stroke="#000" stroke-width="1.4" stroke-linecap="butt"/>
<line x1="411.00" y1="341.00" x2="423.00" y2="341.00" stroke="#000" stroke-width="1.4" stroke-linecap="butt"/>
<line x1="417.00" y1="338.40" x2="417.00" y2="341.00" stroke="#000" stroke-width="1.4" stroke-linecap="butt"/>
<line x1="441.20" y1="365.50" x2="464.40" y2="365.50" stroke="#000" stroke-width="1.4" stroke-linecap="butt"/>
<line x1="447.30" y1="364.00" x2="458.30" y2="364.00" stroke="#000" stroke-width="1.4" stroke-linecap="butt"/>
<line x1="452.80" y1="364.00" x2="452.80" y2="365.50" stroke="#000" stroke-width="1.4" stroke-linecap="butt"/>
<line x1="447.30" y1="367.00" x2="458.30" y2="367.00" stroke="#000" stroke-width="1.4" stroke-linecap="butt"/>
<line x1="452.80" y1="365.50" x2="452.80" y2="367.00" stroke="#000" stroke-width="1.4" stroke-linecap="butt"/>
<line x1="476.60" y1="341.10" x2="500.00" y2="341.10" stroke="#000" stroke-width="1.4" stroke-linecap="butt"/>
<line x1="482.80" y1="337.50" x2="493.80" y2="337.50" stroke="#000" stroke-width="1.4" stroke-linecap="butt"/>
<line x1="488.30" y1="337.50" x2="488.30" y2="341.10" stroke="#000" stroke-width="1.4" stroke-linecap="butt"/>
<line x1="482.80" y1="344.40" x2="493.80" y2="344.40" stroke="#000" stroke-width="1.4" stroke-linecap="butt"/>
<line x1="488.30" y1="341.10" x2="488.30" y2="344.40" stroke="#000" stroke-width="1.4" stroke-linecap="butt"/>
<circle cx="417.00" cy="281.80" r="2.55" fill="#de2541" stroke="#0a0a0a" stroke-width="1.1"/>
<circle cx="417.00" cy="303.50" r="2.55" fill="#de2541" stroke="#0a0a0a" stroke-width="1.1"/>
<circle cx="417.00" cy="317.60" r="2.55" fill="#de2541" stroke="#0a0a0a" stroke-width="1.1"/>
<circle cx="417.20" cy="322.50" r="2.55" fill="#de2541" stroke="#0a0a0a" stroke-width="1.1"/>
<circle cx="418.90" cy="328.80" r="2.55" fill="#de2541" stroke="#0a0a0a" stroke-width="1.1"/>
<circle cx="426.60" cy="333.20" r="2.55" fill="#de2541" stroke="#0a0a0a" stroke-width="1.1"/>
<circle cx="414.80" cy="336.20" r="2.55" fill="#de2541" stroke="#0a0a0a" stroke-width="1.1"/>
<circle cx="418.90" cy="335.80" r="2.55" fill="#de2541" stroke="#0a0a0a" stroke-width="1.1"/>
<circle cx="407.40" cy="339.80" r="2.55" fill="#de2541" stroke="#0a0a0a" stroke-width="1.1"/>
<circle cx="411.50" cy="340.80" r="2.55" fill="#de2541" stroke="#0a0a0a" stroke-width="1.1"/>
<circle cx="415.30" cy="341.90" r="2.55" fill="#de2541" stroke="#0a0a0a" stroke-width="1.1"/>
<circle cx="422.60" cy="339.80" r="2.55" fill="#de2541" stroke="#0a0a0a" stroke-width="1.1"/>
<circle cx="426.60" cy="340.20" r="2.55" fill="#de2541" stroke="#0a0a0a" stroke-width="1.1"/>
<circle cx="418.90" cy="344.60" r="2.55" fill="#de2541" stroke="#0a0a0a" stroke-width="1.1"/>
<circle cx="415.30" cy="347.10" r="2.55" fill="#de2541" stroke="#0a0a0a" stroke-width="1.1"/>
<circle cx="411.50" cy="349.60" r="2.55" fill="#de2541" stroke="#0a0a0a" stroke-width="1.1"/>
<circle cx="407.60" cy="351.90" r="2.55" fill="#de2541" stroke="#0a0a0a" stroke-width="1.1"/>
<circle cx="411.40" cy="354.50" r="2.55" fill="#de2541" stroke="#0a0a0a" stroke-width="1.1"/>
<circle cx="419.00" cy="355.40" r="2.55" fill="#de2541" stroke="#0a0a0a" stroke-width="1.1"/>
<circle cx="422.80" cy="354.10" r="2.55" fill="#de2541" stroke="#0a0a0a" stroke-width="1.1"/>
<circle cx="426.60" cy="356.00" r="2.55" fill="#de2541" stroke="#0a0a0a" stroke-width="1.1"/>
<circle cx="407.60" cy="358.00" r="2.55" fill="#de2541" stroke="#0a0a0a" stroke-width="1.1"/>
<circle cx="415.20" cy="356.40" r="2.55" fill="#de2541" stroke="#0a0a0a" stroke-width="1.1"/>
<circle cx="422.80" cy="359.50" r="2.55" fill="#de2541" stroke="#0a0a0a" stroke-width="1.1"/>
<circle cx="452.70" cy="350.90" r="2.55" fill="#1b6db5" stroke="#0a0a0a" stroke-width="1.1"/>
<circle cx="452.70" cy="355.30" r="2.55" fill="#1b6db5" stroke="#0a0a0a" stroke-width="1.1"/>
<circle cx="451.60" cy="357.70" r="2.55" fill="#1b6db5" stroke="#0a0a0a" stroke-width="1.1"/>
<circle cx="453.50" cy="360.70" r="2.55" fill="#1b6db5" stroke="#0a0a0a" stroke-width="1.1"/>
<circle cx="457.20" cy="362.00" r="2.55" fill="#1b6db5" stroke="#0a0a0a" stroke-width="1.1"/>
<circle cx="448.60" cy="362.40" r="2.55" fill="#1b6db5" stroke="#0a0a0a" stroke-width="1.1"/>
<circle cx="448.00" cy="366.80" r="2.55" fill="#1b6db5" stroke="#0a0a0a" stroke-width="1.1"/>
<circle cx="451.60" cy="366.80" r="2.55" fill="#1b6db5" stroke="#0a0a0a" stroke-width="1.1"/>
<circle cx="459.00" cy="367.20" r="2.55" fill="#1b6db5" stroke="#0a0a0a" stroke-width="1.1"/>
<circle cx="443.00" cy="369.80" r="2.55" fill="#1b6db5" stroke="#0a0a0a" stroke-width="1.1"/>
<circle cx="449.90" cy="370.70" r="2.55" fill="#1b6db5" stroke="#0a0a0a" stroke-width="1.1"/>
<circle cx="455.30" cy="369.40" r="2.55" fill="#1b6db5" stroke="#0a0a0a" stroke-width="1.1"/>
<circle cx="457.50" cy="372.00" r="2.55" fill="#1b6db5" stroke="#0a0a0a" stroke-width="1.1"/>
<circle cx="462.20" cy="370.20" r="2.55" fill="#1b6db5" stroke="#0a0a0a" stroke-width="1.1"/>
<circle cx="486.90" cy="310.70" r="2.55" fill="#44cf5a" stroke="#0a0a0a" stroke-width="1.1"/>
<circle cx="489.90" cy="310.70" r="2.55" fill="#44cf5a" stroke="#0a0a0a" stroke-width="1.1"/>
<circle cx="485.10" cy="315.20" r="2.55" fill="#44cf5a" stroke="#0a0a0a" stroke-width="1.1"/>
<circle cx="488.70" cy="317.60" r="2.55" fill="#44cf5a" stroke="#0a0a0a" stroke-width="1.1"/>
<circle cx="488.40" cy="323.70" r="2.55" fill="#44cf5a" stroke="#0a0a0a" stroke-width="1.1"/>
<circle cx="485.10" cy="329.00" r="2.55" fill="#44cf5a" stroke="#0a0a0a" stroke-width="1.1"/>
<circle cx="488.40" cy="332.20" r="2.55" fill="#44cf5a" stroke="#0a0a0a" stroke-width="1.1"/>
<circle cx="486.70" cy="339.50" r="2.55" fill="#44cf5a" stroke="#0a0a0a" stroke-width="1.1"/>
<circle cx="489.90" cy="340.40" r="2.55" fill="#44cf5a" stroke="#0a0a0a" stroke-width="1.1"/>
<circle cx="478.40" cy="346.80" r="2.55" fill="#44cf5a" stroke="#0a0a0a" stroke-width="1.1"/>
<circle cx="482.00" cy="347.40" r="2.55" fill="#44cf5a" stroke="#0a0a0a" stroke-width="1.1"/>
<circle cx="485.70" cy="346.00" r="2.55" fill="#44cf5a" stroke="#0a0a0a" stroke-width="1.1"/>
<circle cx="488.70" cy="346.50" r="2.55" fill="#44cf5a" stroke="#0a0a0a" stroke-width="1.1"/>
<circle cx="485.10" cy="351.30" r="2.55" fill="#44cf5a" stroke="#0a0a0a" stroke-width="1.1"/>
<circle cx="491.20" cy="351.30" r="2.55" fill="#44cf5a" stroke="#0a0a0a" stroke-width="1.1"/>
<circle cx="494.80" cy="349.90" r="2.55" fill="#44cf5a" stroke="#0a0a0a" stroke-width="1.1"/>
<circle cx="498.10" cy="349.60" r="2.55" fill="#44cf5a" stroke="#0a0a0a" stroke-width="1.1"/>
<circle cx="478.40" cy="352.30" r="2.55" fill="#44cf5a" stroke="#0a0a0a" stroke-width="1.1"/>
<circle cx="488.40" cy="353.80" r="2.55" fill="#44cf5a" stroke="#0a0a0a" stroke-width="1.1"/>
<circle cx="486.30" cy="359.00" r="2.55" fill="#44cf5a" stroke="#0a0a0a" stroke-width="1.1"/>
<circle cx="489.90" cy="361.40" r="2.55" fill="#44cf5a" stroke="#0a0a0a" stroke-width="1.1"/>
<circle cx="488.40" cy="366.70" r="2.55" fill="#44cf5a" stroke="#0a0a0a" stroke-width="1.1"/>
<g transform="translate(422.80,385.50) rotate(-45) scale(1,1)"><text x="0" y="0" font-size="11.8" text-anchor="end" fill="#000">HC</text></g>
<g transform="translate(457.50,385.50) rotate(-45) scale(0.92,1)"><text x="0" y="0" font-size="11.8" text-anchor="end" fill="#000">pES</text></g>
<g transform="translate(491.50,385.30) rotate(-45) scale(0.92,1)"><text x="0" y="0" font-size="11.8" text-anchor="end" fill="#000">cITP</text></g>
<g transform="translate(8.04,423.30) scale(0.939,1)"><text x="0" y="0" font-size="17.6" font-weight="bold">F</text></g>
<g transform="translate(16.59,442.00) rotate(0) scale(1.0172,1.0)"><text x="0.00" y="0" fill="#000"><tspan font-size="14.00" dx="0.00" dy="0.00">CD45RA</tspan><tspan font-size="8.40" dx="0.00" dy="-3.50">−</tspan><tspan font-size="14.00" dx="0.00" dy="3.50">CD4</tspan><tspan font-size="8.40" dx="0.00" dy="-3.50">+</tspan><tspan font-size="14.00" dx="0.00" dy="3.50">(Memory)</tspan></text></g>
<line x1="47.80" y1="460.10" x2="47.80" y2="585.90" stroke="#000" stroke-width="1.4" stroke-linecap="butt"/>
<line x1="43.40" y1="460.80" x2="47.80" y2="460.80" stroke="#000" stroke-width="1.4" stroke-linecap="butt"/>
<line x1="43.40" y1="491.80" x2="47.80" y2="491.80" stroke="#000" stroke-width="1.4" stroke-linecap="butt"/>
<line x1="43.40" y1="522.70" x2="47.80" y2="522.70" stroke="#000" stroke-width="1.4" stroke-linecap="butt"/>
<line x1="43.40" y1="553.70" x2="47.80" y2="553.70" stroke="#000" stroke-width="1.4" stroke-linecap="butt"/>
<line x1="43.40" y1="585.20" x2="47.80" y2="585.20" stroke="#000" stroke-width="1.4" stroke-linecap="butt"/>
<line x1="43.40" y1="585.20" x2="157.50" y2="585.20" stroke="#000" stroke-width="1.4" stroke-linecap="butt"/>
<line x1="69.60" y1="585.20" x2="69.60" y2="590.00" stroke="#000" stroke-width="1.4" stroke-linecap="butt"/>
<line x1="102.90" y1="585.20" x2="102.90" y2="590.00" stroke="#000" stroke-width="1.4" stroke-linecap="butt"/>
<line x1="135.60" y1="585.20" x2="135.60" y2="590.00" stroke="#000" stroke-width="1.4" stroke-linecap="butt"/>
<g transform="translate(39.40,464.97) scale(1.02,1)"><text x="0" y="0" font-size="11.9" text-anchor="end">40</text></g>
<g transform="translate(39.40,495.97) scale(1.02,1)"><text x="0" y="0" font-size="11.9" text-anchor="end">30</text></g>
<g transform="translate(39.40,526.87) scale(1.02,1)"><text x="0" y="0" font-size="11.9" text-anchor="end">20</text></g>
<g transform="translate(39.40,557.87) scale(1.02,1)"><text x="0" y="0" font-size="11.9" text-anchor="end">10</text></g>
<g transform="translate(39.40,589.37) scale(1.02,1)"><text x="0" y="0" font-size="11.9" text-anchor="end">0</text></g>
<g transform="translate(21.40,580.20) rotate(-90) scale(0.6984,1.0)"><text x="0.00" y="0" fill="#2a2a2a" style="stroke:none"><tspan font-size="14.80" dx="0.00" dy="0.00">% cTfh (PD-1</tspan><tspan font-size="9.18" dx="2.20" dy="-4.44">+</tspan><tspan font-size="14.80" dx="2.20" dy="4.44"> CXCR5</tspan><tspan font-size="9.18" dx="2.20" dy="-4.44">+</tspan><tspan font-size="14.80" dx="2.20" dy="4.44">)</tspan></text></g>
<line x1="67.50" y1="459.50" x2="135.70" y2="459.50" stroke="#000" stroke-width="1.3" stroke-linecap="butt"/>
<polygon points="99.20,452.30 99.88,454.12 101.82,454.20 100.30,455.41 100.82,457.27 99.20,456.20 97.58,457.27 98.10,455.41 96.58,454.20 98.52,454.12" fill="#111"/>
<polygon points="104.80,452.30 105.48,454.12 107.42,454.20 105.90,455.41 106.42,457.27 104.80,456.20 103.18,457.27 103.70,455.41 102.18,454.20 104.12,454.12" fill="#111"/>
<polygon points="110.40,452.30 111.08,454.12 113.02,454.20 111.50,455.41 112.02,457.27 110.40,456.20 108.78,457.27 109.30,455.41 107.78,454.20 109.72,454.12" fill="#111"/>
<polygon points="116.00,452.30 116.68,454.12 118.62,454.20 117.10,455.41 117.62,457.27 116.00,456.20 114.38,457.27 114.90,455.41 113.38,454.20 115.32,454.12" fill="#111"/>
<line x1="68.80" y1="470.30" x2="102.70" y2="470.30" stroke="#000" stroke-width="1.3" stroke-linecap="butt"/>
<polygon points="82.75,463.40 83.43,465.22 85.37,465.30 83.85,466.51 84.37,468.37 82.75,467.30 81.13,468.37 81.65,466.51 80.13,465.30 82.07,465.22" fill="#111"/>
<polygon points="88.35,463.40 89.03,465.22 90.97,465.30 89.45,466.51 89.97,468.37 88.35,467.30 86.73,468.37 87.25,466.51 85.73,465.30 87.67,465.22" fill="#111"/>
<polygon points="93.95,463.40 94.63,465.22 96.57,465.30 95.05,466.51 95.57,468.37 93.95,467.30 92.33,468.37 92.85,466.51 91.33,465.30 93.27,465.22" fill="#111"/>
<polygon points="99.55,463.40 100.23,465.22 102.17,465.30 100.65,466.51 101.17,468.37 99.55,467.30 97.93,468.37 98.45,466.51 96.93,465.30 98.87,465.22" fill="#111"/>
<line x1="104.30" y1="475.90" x2="138.00" y2="475.90" stroke="#000" stroke-width="1.3" stroke-linecap="butt"/>
<text x="123.50" y="473.60" font-size="12.0" text-anchor="middle" fill="#000">ns</text>
<line x1="58.80" y1="573.50" x2="80.80" y2="573.50" stroke="#000" stroke-width="1.4" stroke-linecap="butt"/>
<line x1="64.30" y1="571.00" x2="75.30" y2="571.00" stroke="#000" stroke-width="1.4" stroke-linecap="butt"/>
<line x1="69.80" y1="571.00" x2="69.80" y2="573.50" stroke="#000" stroke-width="1.4" stroke-linecap="butt"/>
<line x1="64.30" y1="576.00" x2="75.30" y2="576.00" stroke="#000" stroke-width="1.4" stroke-linecap="butt"/>
<line x1="69.80" y1="573.50" x2="69.80" y2="576.00" stroke="#000" stroke-width="1.4" stroke-linecap="butt"/>
<circle cx="68.30" cy="560.00" r="2.55" fill="#de2541" stroke="#0a0a0a" stroke-width="1.1"/>
<circle cx="71.20" cy="560.80" r="2.55" fill="#de2541" stroke="#0a0a0a" stroke-width="1.1"/>
<circle cx="69.60" cy="563.70" r="2.55" fill="#de2541" stroke="#0a0a0a" stroke-width="1.1"/>
<circle cx="67.30" cy="566.30" r="2.55" fill="#de2541" stroke="#0a0a0a" stroke-width="1.1"/>
<circle cx="72.70" cy="568.30" r="2.55" fill="#de2541" stroke="#0a0a0a" stroke-width="1.1"/>
<circle cx="65.80" cy="569.20" r="2.55" fill="#de2541" stroke="#0a0a0a" stroke-width="1.1"/>
<circle cx="70.00" cy="570.60" r="2.55" fill="#de2541" stroke="#0a0a0a" stroke-width="1.1"/>
<circle cx="64.60" cy="574.50" r="2.55" fill="#de2541" stroke="#0a0a0a" stroke-width="1.1"/>
<circle cx="67.30" cy="572.70" r="2.55" fill="#de2541" stroke="#0a0a0a" stroke-width="1.1"/>
<circle cx="69.60" cy="575.40" r="2.55" fill="#de2541" stroke="#0a0a0a" stroke-width="1.1"/>
<circle cx="74.60" cy="573.80" r="2.55" fill="#de2541" stroke="#0a0a0a" stroke-width="1.1"/>
<circle cx="62.70" cy="577.30" r="2.55" fill="#de2541" stroke="#0a0a0a" stroke-width="1.1"/>
<circle cx="67.70" cy="577.70" r="2.55" fill="#de2541" stroke="#0a0a0a" stroke-width="1.1"/>
<circle cx="71.50" cy="576.90" r="2.55" fill="#de2541" stroke="#0a0a0a" stroke-width="1.1"/>
<circle cx="60.80" cy="580.60" r="2.55" fill="#de2541" stroke="#0a0a0a" stroke-width="1.1"/>
<circle cx="65.40" cy="579.80" r="2.55" fill="#de2541" stroke="#0a0a0a" stroke-width="1.1"/>
<circle cx="69.60" cy="582.30" r="2.55" fill="#de2541" stroke="#0a0a0a" stroke-width="1.1"/>
<circle cx="73.80" cy="580.60" r="2.55" fill="#de2541" stroke="#0a0a0a" stroke-width="1.1"/>
<circle cx="78.30" cy="581.70" r="2.55" fill="#de2541" stroke="#0a0a0a" stroke-width="1.1"/>
<line x1="91.30" y1="515.40" x2="113.70" y2="515.40" stroke="#000" stroke-width="1.4" stroke-linecap="butt"/>
<line x1="97.50" y1="507.90" x2="107.50" y2="507.90" stroke="#000" stroke-width="1.4" stroke-linecap="butt"/>
<line x1="102.50" y1="507.90" x2="102.50" y2="515.40" stroke="#000" stroke-width="1.4" stroke-linecap="butt"/>
<line x1="97.50" y1="523.20" x2="107.50" y2="523.20" stroke="#000" stroke-width="1.4" stroke-linecap="butt"/>
<line x1="102.50" y1="515.40" x2="102.50" y2="523.20" stroke="#000" stroke-width="1.4" stroke-linecap="butt"/>
<line x1="124.90" y1="533.30" x2="146.50" y2="533.30" stroke="#000" stroke-width="1.4" stroke-linecap="butt"/>
<line x1="130.60" y1="523.20" x2="140.80" y2="523.20" stroke="#000" stroke-width="1.4" stroke-linecap="butt"/>
<line x1="135.70" y1="523.20" x2="135.70" y2="533.30" stroke="#000" stroke-width="1.4" stroke-linecap="butt"/>
<line x1="130.60" y1="543.70" x2="140.80" y2="543.70" stroke="#000" stroke-width="1.4" stroke-linecap="butt"/>
<line x1="135.70" y1="533.30" x2="135.70" y2="543.70" stroke="#000" stroke-width="1.4" stroke-linecap="butt"/>
<circle cx="102.70" cy="490.70" r="2.45" fill="#1b6db5" stroke="#0a0a0a" stroke-width="1.1"/>
<circle cx="102.70" cy="498.50" r="2.45" fill="#1b6db5" stroke="#0a0a0a" stroke-width="1.1"/>
<circle cx="102.70" cy="511.20" r="2.45" fill="#1b6db5" stroke="#0a0a0a" stroke-width="1.1"/>
<circle cx="102.70" cy="524.40" r="2.45" fill="#1b6db5" stroke="#0a0a0a" stroke-width="1.1"/>
<circle cx="102.70" cy="530.20" r="2.45" fill="#1b6db5" stroke="#0a0a0a" stroke-width="1.1"/>
<circle cx="102.70" cy="538.80" r="2.45" fill="#1b6db5" stroke="#0a0a0a" stroke-width="1.1"/>
<circle cx="135.80" cy="484.20" r="2.95" fill="#732d84" stroke="#0a0a0a" stroke-width="1.1"/>
<circle cx="135.80" cy="530.80" r="2.95" fill="#732d84" stroke="#0a0a0a" stroke-width="1.1"/>
<circle cx="127.70" cy="543.70" r="2.95" fill="#732d84" stroke="#0a0a0a" stroke-width="1.1"/>
<circle cx="143.90" cy="541.50" r="2.95" fill="#732d84" stroke="#0a0a0a" stroke-width="1.1"/>
<circle cx="127.70" cy="550.40" r="2.95" fill="#732d84" stroke="#0a0a0a" stroke-width="1.1"/>
<circle cx="143.90" cy="549.60" r="2.95" fill="#732d84" stroke="#0a0a0a" stroke-width="1.1"/>
<g transform="translate(73.70,599.20) rotate(-45) scale(1,1)"><text x="0" y="0" font-size="10.8" text-anchor="end" fill="#000">HC</text></g>
<g transform="translate(104.10,599.00) rotate(-45) scale(0.92,1)"><text x="0" y="0" font-size="10.8" text-anchor="end" fill="#000">pES-onset</text></g>
<g transform="translate(137.00,598.90) rotate(-45) scale(0.96,1)"><text x="0" y="0" font-size="10.8" text-anchor="end" fill="#000">pES-follow-up</text></g>
<g transform="translate(183.53,424.70) scale(1.018,1)"><text x="0" y="0" font-size="17.6" font-weight="bold">G</text></g>
<g transform="translate(249.77,441.85) rotate(0) scale(1.0284,1.05)"><text x="0.00" y="0" fill="#000"><tspan font-size="14.00" dx="0.00" dy="0.00">EM CD4</tspan><tspan font-size="8.40" dx="0.00" dy="-3.50">+</tspan></text></g>
<line x1="223.50" y1="462.20" x2="223.50" y2="491.30" stroke="#000" stroke-width="1.4" stroke-linecap="butt"/>
<line x1="219.00" y1="462.90" x2="223.50" y2="462.90" stroke="#000" stroke-width="1.4" stroke-linecap="butt"/>
<line x1="220.10" y1="491.30" x2="227.00" y2="491.30" stroke="#000" stroke-width="1.4" stroke-linecap="butt"/>
<line x1="223.50" y1="501.60" x2="223.50" y2="588.10" stroke="#000" stroke-width="1.4" stroke-linecap="butt"/>
<line x1="220.10" y1="501.60" x2="227.00" y2="501.60" stroke="#000" stroke-width="1.4" stroke-linecap="butt"/>
<line x1="219.00" y1="506.50" x2="223.50" y2="506.50" stroke="#000" stroke-width="1.4" stroke-linecap="butt"/>
<line x1="219.00" y1="533.90" x2="223.50" y2="533.90" stroke="#000" stroke-width="1.4" stroke-linecap="butt"/>
<line x1="219.00" y1="560.50" x2="223.50" y2="560.50" stroke="#000" stroke-width="1.4" stroke-linecap="butt"/>
<line x1="219.00" y1="587.40" x2="223.50" y2="587.40" stroke="#000" stroke-width="1.4" stroke-linecap="butt"/>
<line x1="219.00" y1="587.50" x2="338.70" y2="587.50" stroke="#000" stroke-width="1.4" stroke-linecap="butt"/>
<line x1="246.40" y1="587.50" x2="246.40" y2="592.10" stroke="#000" stroke-width="1.4" stroke-linecap="butt"/>
<line x1="280.90" y1="587.50" x2="280.90" y2="592.10" stroke="#000" stroke-width="1.4" stroke-linecap="butt"/>
<line x1="315.80" y1="587.50" x2="315.80" y2="592.10" stroke="#000" stroke-width="1.4" stroke-linecap="butt"/>
<g transform="translate(215.20,466.47) scale(1.02,1)"><text x="0" y="0" font-size="11.9" text-anchor="end">30</text></g>
<g transform="translate(215.20,510.37) scale(1.02,1)"><text x="0" y="0" font-size="11.9" text-anchor="end">15</text></g>
<g transform="translate(215.20,538.06) scale(1.02,1)"><text x="0" y="0" font-size="11.9" text-anchor="end">10</text></g>
<g transform="translate(215.20,564.66) scale(1.02,1)"><text x="0" y="0" font-size="11.9" text-anchor="end">5</text></g>
<g transform="translate(215.20,591.56) scale(1.02,1)"><text x="0" y="0" font-size="11.9" text-anchor="end">0</text></g>
<g transform="translate(197.10,569.20) rotate(-90) scale(0.6783,1.0)"><text x="0.00" y="0" fill="#2a2a2a" style="stroke:none"><tspan font-size="14.80" dx="0.00" dy="0.00">% HLA-DR</tspan><tspan font-size="9.18" dx="2.20" dy="-4.44">+</tspan><tspan font-size="14.80" dx="2.20" dy="4.44">CD38</tspan><tspan font-size="9.18" dx="2.20" dy="-4.44">+</tspan></text></g>
<line x1="247.30" y1="452.30" x2="314.80" y2="452.30" stroke="#000" stroke-width="1.3" stroke-linecap="butt"/>
<polygon points="281.30,446.25 281.98,448.07 283.92,448.15 282.40,449.36 282.92,451.22 281.30,450.15 279.68,451.22 280.20,449.36 278.68,448.15 280.62,448.07" fill="#111"/>
<polygon points="286.90,446.25 287.58,448.07 289.52,448.15 288.00,449.36 288.52,451.22 286.90,450.15 285.28,451.22 285.80,449.36 284.28,448.15 286.22,448.07" fill="#111"/>
<line x1="247.30" y1="463.60" x2="279.00" y2="463.60" stroke="#000" stroke-width="1.3" stroke-linecap="butt"/>
<polygon points="261.30,457.50 261.98,459.32 263.92,459.40 262.40,460.61 262.92,462.47 261.30,461.40 259.68,462.47 260.20,460.61 258.68,459.40 260.62,459.32" fill="#111"/>
<polygon points="266.90,457.50 267.58,459.32 269.52,459.40 268.00,460.61 268.52,462.47 266.90,461.40 265.28,462.47 265.80,460.61 264.28,459.40 266.22,459.32" fill="#111"/>
<polygon points="272.50,457.50 273.18,459.32 275.12,459.40 273.60,460.61 274.12,462.47 272.50,461.40 270.88,462.47 271.40,460.61 269.88,459.40 271.82,459.32" fill="#111"/>
<line x1="279.80" y1="466.00" x2="315.40" y2="466.00" stroke="#000" stroke-width="1.3" stroke-linecap="butt"/>
<text x="299.40" y="464.00" font-size="12.0" text-anchor="middle" fill="#000">ns</text>
<line x1="236.00" y1="582.00" x2="257.00" y2="582.00" stroke="#000" stroke-width="1.4" stroke-linecap="butt"/>
<circle cx="246.40" cy="566.10" r="2.55" fill="#de2541" stroke="#0a0a0a" stroke-width="1.1"/>
<circle cx="246.40" cy="574.40" r="2.55" fill="#de2541" stroke="#0a0a0a" stroke-width="1.1"/>
<circle cx="243.60" cy="579.00" r="2.55" fill="#de2541" stroke="#0a0a0a" stroke-width="1.1"/>
<circle cx="248.70" cy="580.30" r="2.55" fill="#de2541" stroke="#0a0a0a" stroke-width="1.1"/>
<circle cx="238.80" cy="581.80" r="2.55" fill="#de2541" stroke="#0a0a0a" stroke-width="1.1"/>
<circle cx="254.20" cy="581.80" r="2.55" fill="#de2541" stroke="#0a0a0a" stroke-width="1.1"/>
<circle cx="246.20" cy="580.80" r="2.55" fill="#de2541" stroke="#0a0a0a" stroke-width="1.1"/>
<circle cx="237.30" cy="583.60" r="2.55" fill="#de2541" stroke="#0a0a0a" stroke-width="1.1"/>
<circle cx="241.50" cy="585.40" r="2.55" fill="#de2541" stroke="#0a0a0a" stroke-width="1.1"/>
<circle cx="244.50" cy="585.60" r="2.55" fill="#de2541" stroke="#0a0a0a" stroke-width="1.1"/>
<circle cx="251.40" cy="584.00" r="2.55" fill="#de2541" stroke="#0a0a0a" stroke-width="1.1"/>
<circle cx="255.70" cy="585.40" r="2.55" fill="#de2541" stroke="#0a0a0a" stroke-width="1.1"/>
<circle cx="249.00" cy="585.60" r="2.55" fill="#de2541" stroke="#0a0a0a" stroke-width="1.1"/>
<circle cx="241.00" cy="582.00" r="2.55" fill="#de2541" stroke="#0a0a0a" stroke-width="1.1"/>
<line x1="269.10" y1="559.00" x2="292.50" y2="559.00" stroke="#000" stroke-width="1.4" stroke-linecap="butt"/>
<line x1="275.50" y1="555.00" x2="286.10" y2="555.00" stroke="#000" stroke-width="1.4" stroke-linecap="butt"/>
<line x1="280.80" y1="555.00" x2="280.80" y2="559.00" stroke="#000" stroke-width="1.4" stroke-linecap="butt"/>
<line x1="275.50" y1="562.50" x2="286.10" y2="562.50" stroke="#000" stroke-width="1.4" stroke-linecap="butt"/>
<line x1="280.80" y1="559.00" x2="280.80" y2="562.50" stroke="#000" stroke-width="1.4" stroke-linecap="butt"/>
<line x1="304.00" y1="545.40" x2="327.00" y2="545.40" stroke="#000" stroke-width="1.4" stroke-linecap="butt"/>
<line x1="310.40" y1="526.20" x2="320.60" y2="526.20" stroke="#000" stroke-width="1.4" stroke-linecap="butt"/>
<line x1="315.50" y1="526.20" x2="315.50" y2="545.40" stroke="#000" stroke-width="1.4" stroke-linecap="butt"/>
<line x1="310.40" y1="564.40" x2="320.60" y2="564.40" stroke="#000" stroke-width="1.4" stroke-linecap="butt"/>
<line x1="315.50" y1="545.40" x2="315.50" y2="564.40" stroke="#000" stroke-width="1.4" stroke-linecap="butt"/>
<circle cx="281.20" cy="542.90" r="2.55" fill="#1b6db5" stroke="#0a0a0a" stroke-width="1.1"/>
<circle cx="281.20" cy="551.90" r="2.55" fill="#1b6db5" stroke="#0a0a0a" stroke-width="1.1"/>
<circle cx="272.30" cy="561.80" r="2.55" fill="#1b6db5" stroke="#0a0a0a" stroke-width="1.1"/>
<circle cx="281.20" cy="563.30" r="2.55" fill="#1b6db5" stroke="#0a0a0a" stroke-width="1.1"/>
<circle cx="272.30" cy="568.20" r="2.55" fill="#1b6db5" stroke="#0a0a0a" stroke-width="1.1"/>
<circle cx="289.60" cy="565.80" r="2.55" fill="#1b6db5" stroke="#0a0a0a" stroke-width="1.1"/>
<circle cx="315.40" cy="471.80" r="2.6" fill="#732d84" stroke="#0a0a0a" stroke-width="1.1"/>
<circle cx="315.40" cy="549.20" r="2.6" fill="#732d84" stroke="#0a0a0a" stroke-width="1.1"/>
<circle cx="306.50" cy="569.60" r="2.6" fill="#732d84" stroke="#0a0a0a" stroke-width="1.1"/>
<circle cx="312.70" cy="565.90" r="2.6" fill="#732d84" stroke="#0a0a0a" stroke-width="1.1"/>
<circle cx="318.40" cy="569.20" r="2.6" fill="#732d84" stroke="#0a0a0a" stroke-width="1.1"/>
<circle cx="324.50" cy="567.40" r="2.6" fill="#732d84" stroke="#0a0a0a" stroke-width="1.1"/>
<g transform="translate(253.45,600.80) rotate(-45) scale(1,1)"><text x="0" y="0" font-size="10.8" text-anchor="end" fill="#000">HC</text></g>
<g transform="translate(283.80,601.20) rotate(-45) scale(0.92,1)"><text x="0" y="0" font-size="10.8" text-anchor="end" fill="#000">pES-onset</text></g>
<g transform="translate(317.20,601.50) rotate(-45) scale(0.96,1)"><text x="0" y="0" font-size="10.8" text-anchor="end" fill="#000">pES-follow-up</text></g>
<g transform="translate(354.47,424.30) scale(1.077,1)"><text x="0" y="0" font-size="17.6" font-weight="bold">H</text></g>
<g transform="translate(403.06,445.10) rotate(0) scale(0.9909,1.05)"><text x="0.00" y="0" fill="#000"><tspan font-size="14.00" dx="0.00" dy="0.00">CSMB cells</tspan></text></g>
<line x1="393.40" y1="460.90" x2="393.40" y2="588.20" stroke="#000" stroke-width="1.4" stroke-linecap="butt"/>
<line x1="389.00" y1="461.70" x2="393.40" y2="461.70" stroke="#000" stroke-width="1.4" stroke-linecap="butt"/>
<line x1="389.00" y1="486.80" x2="393.40" y2="486.80" stroke="#000" stroke-width="1.4" stroke-linecap="butt"/>
<line x1="389.00" y1="511.90" x2="393.40" y2="511.90" stroke="#000" stroke-width="1.4" stroke-linecap="butt"/>
<line x1="389.00" y1="536.90" x2="393.40" y2="536.90" stroke="#000" stroke-width="1.4" stroke-linecap="butt"/>
<line x1="389.00" y1="561.90" x2="393.40" y2="561.90" stroke="#000" stroke-width="1.4" stroke-linecap="butt"/>
<line x1="389.00" y1="587.50" x2="393.40" y2="587.50" stroke="#000" stroke-width="1.4" stroke-linecap="butt"/>
<line x1="389.00" y1="574.80" x2="393.40" y2="574.80" stroke="#000" stroke-width="1.4" stroke-linecap="butt"/>
<line x1="389.00" y1="587.50" x2="504.60" y2="587.50" stroke="#000" stroke-width="1.4" stroke-linecap="butt"/>
<line x1="415.70" y1="587.50" x2="415.70" y2="592.00" stroke="#000" stroke-width="1.4" stroke-linecap="butt"/>
<line x1="448.80" y1="587.50" x2="448.80" y2="592.00" stroke="#000" stroke-width="1.4" stroke-linecap="butt"/>
<line x1="482.00" y1="587.50" x2="482.00" y2="592.00" stroke="#000" stroke-width="1.4" stroke-linecap="butt"/>
<line x1="392.80" y1="574.80" x2="503.80" y2="574.80" stroke="#000" stroke-width="1.3" stroke-linecap="butt" stroke-dasharray="3.0 2.8"/>
<g transform="translate(384.80,465.87) scale(1.02,1)"><text x="0" y="0" font-size="11.9" text-anchor="end">10</text></g>
<g transform="translate(384.80,490.97) scale(1.02,1)"><text x="0" y="0" font-size="11.9" text-anchor="end">8</text></g>
<g transform="translate(384.80,516.06) scale(1.02,1)"><text x="0" y="0" font-size="11.9" text-anchor="end">6</text></g>
<g transform="translate(384.80,541.06) scale(1.02,1)"><text x="0" y="0" font-size="11.9" text-anchor="end">4</text></g>
<g transform="translate(384.80,566.06) scale(1.02,1)"><text x="0" y="0" font-size="11.9" text-anchor="end">2</text></g>
<g transform="translate(384.80,591.66) scale(1.02,1)"><text x="0" y="0" font-size="11.9" text-anchor="end">0</text></g>
<g transform="translate(368.20,584.70) rotate(-90) scale(0.7415,1.0)"><text x="0.00" y="0" fill="#222"><tspan font-size="14.80" dx="0.00" dy="0.00">% CD19</tspan><tspan font-size="8.14" dx="0.60" dy="-4.44">+</tspan><tspan font-size="14.80" dx="0.60" dy="4.44">CD27</tspan><tspan font-size="8.14" dx="0.60" dy="-4.44">+</tspan><tspan font-size="14.80" dx="0.60" dy="4.44">IgM</tspan><tspan font-size="8.14" dx="0.60" dy="-4.44">−</tspan><tspan font-size="14.80" dx="0.60" dy="4.44">IgD</tspan><tspan font-size="8.14" dx="0.60" dy="-4.44">−</tspan></text></g>
<line x1="413.80" y1="460.40" x2="483.10" y2="460.40" stroke="#000" stroke-width="1.3" stroke-linecap="butt"/>
<polygon points="445.20,452.70 445.88,454.52 447.82,454.60 446.30,455.81 446.82,457.67 445.20,456.60 443.58,457.67 444.10,455.81 442.58,454.60 444.52,454.52" fill="#111"/>
<polygon points="450.80,452.70 451.48,454.52 453.42,454.60 451.90,455.81 452.42,457.67 450.80,456.60 449.18,457.67 449.70,455.81 448.18,454.60 450.12,454.52" fill="#111"/>
<polygon points="456.40,452.70 457.08,454.52 459.02,454.60 457.50,455.81 458.02,457.67 456.40,456.60 454.78,457.67 455.30,455.81 453.78,454.60 455.72,454.52" fill="#111"/>
<line x1="415.40" y1="471.20" x2="449.20" y2="471.20" stroke="#000" stroke-width="1.3" stroke-linecap="butt"/>
<polygon points="428.60,464.40 429.28,466.22 431.22,466.30 429.70,467.51 430.22,469.37 428.60,468.30 426.98,469.37 427.50,467.51 425.98,466.30 427.92,466.22" fill="#111"/>
<polygon points="434.20,464.40 434.88,466.22 436.82,466.30 435.30,467.51 435.82,469.37 434.20,468.30 432.58,469.37 433.10,467.51 431.58,466.30 433.52,466.22" fill="#111"/>
<polygon points="439.80,464.40 440.48,466.22 442.42,466.30 440.90,467.51 441.42,469.37 439.80,468.30 438.18,469.37 438.70,467.51 437.18,466.30 439.12,466.22" fill="#111"/>
<line x1="450.80" y1="476.40" x2="484.60" y2="476.40" stroke="#000" stroke-width="1.3" stroke-linecap="butt"/>
<text x="470.30" y="473.40" font-size="12.0" text-anchor="middle" fill="#000">ns</text>
<line x1="404.30" y1="556.00" x2="427.30" y2="556.00" stroke="#000" stroke-width="1.4" stroke-linecap="butt"/>
<line x1="410.30" y1="553.00" x2="421.30" y2="553.00" stroke="#000" stroke-width="1.4" stroke-linecap="butt"/>
<line x1="415.80" y1="553.00" x2="415.80" y2="556.00" stroke="#000" stroke-width="1.4" stroke-linecap="butt"/>
<line x1="410.30" y1="559.00" x2="421.30" y2="559.00" stroke="#000" stroke-width="1.4" stroke-linecap="butt"/>
<line x1="415.80" y1="556.00" x2="415.80" y2="559.00" stroke="#000" stroke-width="1.4" stroke-linecap="butt"/>
<circle cx="415.90" cy="490.90" r="2.55" fill="#de2541" stroke="#0a0a0a" stroke-width="1.1"/>
<circle cx="415.90" cy="514.10" r="2.55" fill="#de2541" stroke="#0a0a0a" stroke-width="1.1"/>
<circle cx="415.90" cy="529.90" r="2.55" fill="#de2541" stroke="#0a0a0a" stroke-width="1.1"/>
<circle cx="415.90" cy="534.60" r="2.55" fill="#de2541" stroke="#0a0a0a" stroke-width="1.1"/>
<circle cx="417.60" cy="541.60" r="2.55" fill="#de2541" stroke="#0a0a0a" stroke-width="1.1"/>
<circle cx="424.60" cy="546.50" r="2.55" fill="#de2541" stroke="#0a0a0a" stroke-width="1.1"/>
<circle cx="414.10" cy="550.00" r="2.55" fill="#de2541" stroke="#0a0a0a" stroke-width="1.1"/>
<circle cx="417.60" cy="549.10" r="2.55" fill="#de2541" stroke="#0a0a0a" stroke-width="1.1"/>
<circle cx="407.10" cy="553.50" r="2.55" fill="#de2541" stroke="#0a0a0a" stroke-width="1.1"/>
<circle cx="410.60" cy="555.30" r="2.55" fill="#de2541" stroke="#0a0a0a" stroke-width="1.1"/>
<circle cx="414.10" cy="555.60" r="2.55" fill="#de2541" stroke="#0a0a0a" stroke-width="1.1"/>
<circle cx="421.10" cy="553.90" r="2.55" fill="#de2541" stroke="#0a0a0a" stroke-width="1.1"/>
<circle cx="424.60" cy="553.90" r="2.55" fill="#de2541" stroke="#0a0a0a" stroke-width="1.1"/>
<circle cx="417.60" cy="558.40" r="2.55" fill="#de2541" stroke="#0a0a0a" stroke-width="1.1"/>
<circle cx="414.10" cy="561.90" r="2.55" fill="#de2541" stroke="#0a0a0a" stroke-width="1.1"/>
<circle cx="410.60" cy="564.90" r="2.55" fill="#de2541" stroke="#0a0a0a" stroke-width="1.1"/>
<circle cx="407.10" cy="566.60" r="2.55" fill="#de2541" stroke="#0a0a0a" stroke-width="1.1"/>
<circle cx="410.60" cy="569.60" r="2.55" fill="#de2541" stroke="#0a0a0a" stroke-width="1.1"/>
<circle cx="417.60" cy="570.10" r="2.55" fill="#de2541" stroke="#0a0a0a" stroke-width="1.1"/>
<circle cx="421.10" cy="569.30" r="2.55" fill="#de2541" stroke="#0a0a0a" stroke-width="1.1"/>
<circle cx="424.60" cy="571.00" r="2.55" fill="#de2541" stroke="#0a0a0a" stroke-width="1.1"/>
<circle cx="407.10" cy="572.40" r="2.55" fill="#de2541" stroke="#0a0a0a" stroke-width="1.1"/>
<circle cx="414.10" cy="571.90" r="2.55" fill="#de2541" stroke="#0a0a0a" stroke-width="1.1"/>
<circle cx="421.10" cy="574.90" r="2.55" fill="#de2541" stroke="#0a0a0a" stroke-width="1.1"/>
<line x1="440.00" y1="579.70" x2="458.00" y2="579.70" stroke="#000" stroke-width="1.4" stroke-linecap="butt"/>
<line x1="444.50" y1="578.00" x2="453.50" y2="578.00" stroke="#000" stroke-width="1.4" stroke-linecap="butt"/>
<line x1="449.00" y1="578.00" x2="449.00" y2="579.70" stroke="#000" stroke-width="1.4" stroke-linecap="butt"/>
<line x1="444.50" y1="581.50" x2="453.50" y2="581.50" stroke="#000" stroke-width="1.4" stroke-linecap="butt"/>
<line x1="449.00" y1="579.70" x2="449.00" y2="581.50" stroke="#000" stroke-width="1.4" stroke-linecap="butt"/>
<circle cx="446.20" cy="573.10" r="2.55" fill="#1b6db5" stroke="#0a0a0a" stroke-width="1.1"/>
<circle cx="440.50" cy="577.70" r="2.55" fill="#1b6db5" stroke="#0a0a0a" stroke-width="1.1"/>
<circle cx="440.50" cy="585.40" r="2.55" fill="#1b6db5" stroke="#0a0a0a" stroke-width="1.1"/>
<circle cx="446.20" cy="582.30" r="2.55" fill="#1b6db5" stroke="#0a0a0a" stroke-width="1.1"/>
<circle cx="451.80" cy="583.40" r="2.55" fill="#1b6db5" stroke="#0a0a0a" stroke-width="1.1"/>
<circle cx="457.70" cy="582.80" r="2.55" fill="#1b6db5" stroke="#0a0a0a" stroke-width="1.1"/>
<line x1="473.00" y1="581.50" x2="491.00" y2="581.50" stroke="#000" stroke-width="1.4" stroke-linecap="butt"/>
<circle cx="477.70" cy="578.50" r="2.9" fill="#732d84" stroke="#0a0a0a" stroke-width="1.1"/>
<circle cx="483.80" cy="578.80" r="2.9" fill="#732d84" stroke="#0a0a0a" stroke-width="1.1"/>
<circle cx="490.80" cy="580.30" r="2.9" fill="#732d84" stroke="#0a0a0a" stroke-width="1.1"/>
<circle cx="474.30" cy="583.40" r="2.9" fill="#732d84" stroke="#0a0a0a" stroke-width="1.1"/>
<circle cx="480.80" cy="582.30" r="2.9" fill="#732d84" stroke="#0a0a0a" stroke-width="1.1"/>
<circle cx="486.90" cy="584.60" r="2.9" fill="#732d84" stroke="#0a0a0a" stroke-width="1.1"/>
<g transform="translate(420.00,599.90) rotate(-45) scale(1,1)"><text x="0" y="0" font-size="10.8" text-anchor="end" fill="#000">HC</text></g>
<g transform="translate(450.90,601.20) rotate(-45) scale(0.92,1)"><text x="0" y="0" font-size="10.8" text-anchor="end" fill="#000">pES-onset</text></g>
<g transform="translate(484.40,601.50) rotate(-45) scale(0.96,1)"><text x="0" y="0" font-size="10.8" text-anchor="end" fill="#000">pES-follow-up</text></g>
</svg>
</body></html>
